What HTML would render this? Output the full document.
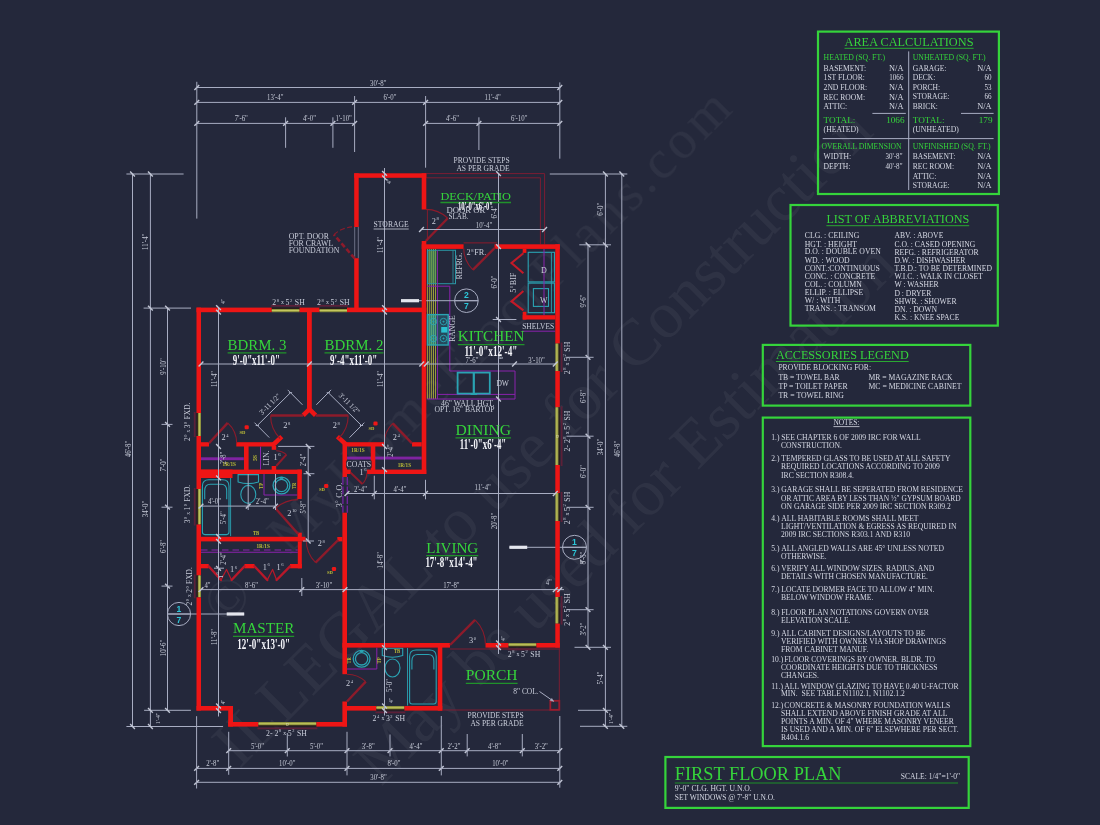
<!DOCTYPE html>
<html lang="en"><head><meta charset="utf-8"><title>First Floor Plan</title>
<style>
html,body{margin:0;padding:0;background:#24283b;}
body{width:1100px;height:825px;overflow:hidden;}
svg{display:block;font-family:"Liberation Serif", serif;}
text{white-space:pre;}
</style></head><body>
<svg width="1100" height="825" viewBox="0 0 1100 825">
<rect x="0" y="0" width="1100" height="825" fill="#24283b"/>
<g fill="#ffffff" opacity="0.05">
<text transform="translate(734 111) rotate(-45)" text-anchor="end" font-size="55" textLength="628.6" lengthAdjust="spacing">MyHomeFloorPlans.com</text>
<text transform="translate(240 611.5) rotate(-45)" text-anchor="middle" font-size="56">©</text>
<text transform="translate(239.4 769.6) rotate(-45)" font-size="66">ILLEGAL to use for Construction</text>
<text transform="translate(381.3 786.9) rotate(-45)" font-size="66">May be used for Estimation</text>
</g>
<line x1="427.60" y1="249.00" x2="427.60" y2="399.00" stroke="#b2b03c" stroke-width="0.85" />
<line x1="429.70" y1="249.00" x2="429.70" y2="399.00" stroke="#b2b03c" stroke-width="0.85" />
<line x1="431.60" y1="249.00" x2="431.60" y2="399.00" stroke="#b2b03c" stroke-width="0.85" />
<line x1="433.50" y1="249.00" x2="433.50" y2="399.00" stroke="#b2b03c" stroke-width="0.85" />
<line x1="435.50" y1="249.00" x2="435.50" y2="399.00" stroke="#b2b03c" stroke-width="0.85" />
<rect x="427.20" y="250.30" width="9.20" height="33.30" fill="#4f9c60" fill-opacity="0.62"/>
<rect x="427.50" y="250.30" width="28.00" height="33.40" fill="none" stroke="#2b97a6" stroke-width="1" />
<line x1="453.00" y1="250.30" x2="453.00" y2="283.70" stroke="#2b97a6" stroke-width="0.8" />
<line x1="437.50" y1="250.30" x2="437.50" y2="399.00" stroke="#8a22ad" stroke-width="0.9" />
<polyline points="427.20,286.20 449.80,286.20 449.80,371.00 515.00,371.00 515.00,399.00 427.20,399.00" fill="none" stroke="#8a22ad" stroke-width="1" />
<line x1="437.50" y1="394.40" x2="515.00" y2="394.40" stroke="#8a22ad" stroke-width="1" />
<rect x="427.40" y="314.60" width="20.80" height="30.40" fill="#2aa3b3" stroke="#2aa3b3" stroke-width="1.4" fill-opacity="0.28"/>
<rect x="427.40" y="314.60" width="8.90" height="30.40" fill="#35b59a" fill-opacity="0.45"/>
<circle cx="433.40" cy="321.60" r="3.30" fill="none" stroke="#2aa3b3" stroke-width="0.9" />
<circle cx="433.40" cy="321.60" r="0.70" fill="#2aa3b3" stroke="#2aa3b3" stroke-width="0.6" />
<circle cx="443.50" cy="321.60" r="3.30" fill="none" stroke="#2aa3b3" stroke-width="0.9" />
<circle cx="443.50" cy="321.60" r="0.70" fill="#2aa3b3" stroke="#2aa3b3" stroke-width="0.6" />
<circle cx="433.40" cy="338.50" r="3.30" fill="none" stroke="#2aa3b3" stroke-width="0.9" />
<circle cx="433.40" cy="338.50" r="0.70" fill="#2aa3b3" stroke="#2aa3b3" stroke-width="0.6" />
<circle cx="443.50" cy="338.50" r="3.30" fill="none" stroke="#2aa3b3" stroke-width="0.9" />
<circle cx="443.50" cy="338.50" r="0.70" fill="#2aa3b3" stroke="#2aa3b3" stroke-width="0.6" />
<rect x="441.20" y="327.00" width="6.10" height="5.60" fill="#2cc0d0" />
<rect x="457.60" y="372.60" width="32.20" height="21.00" fill="none" stroke="#2aa3b3" stroke-width="1.8" />
<line x1="473.80" y1="372.60" x2="473.80" y2="393.60" stroke="#2aa3b3" stroke-width="2.2" />
<rect x="470.50" y="393.00" width="6.50" height="2.00" fill="#2aa3b3" />
<rect x="528.20" y="252.30" width="26.30" height="29.60" fill="none" stroke="#2aa3b3" stroke-width="1.1" />
<line x1="551.40" y1="252.30" x2="551.40" y2="312.70" stroke="#2aa3b3" stroke-width="0.9" />
<rect x="528.20" y="283.10" width="26.30" height="29.60" fill="none" stroke="#2aa3b3" stroke-width="1.1" />
<rect x="533.40" y="288.60" width="15.10" height="17.80" fill="none" stroke="#2aa3b3" stroke-width="1.1" />
<line x1="544.00" y1="249.00" x2="544.00" y2="315.50" stroke="#8a22ad" stroke-width="1" />
<line x1="522.00" y1="331.20" x2="555.30" y2="331.20" stroke="#8a22ad" stroke-width="1" />
<rect x="201.00" y="457.30" width="42.80" height="2.90" fill="#8a22ad" fill-opacity="0.9"/>
<rect x="347.00" y="456.60" width="74.70" height="2.90" fill="#8a22ad" fill-opacity="0.9"/>
<line x1="260.50" y1="446.50" x2="260.50" y2="469.60" stroke="#8a22ad" stroke-width="1" />
<line x1="201.00" y1="550.00" x2="297.80" y2="550.00" stroke="#8a22ad" stroke-width="1" stroke-dasharray="6.5 4"/>
<line x1="201.00" y1="552.30" x2="297.80" y2="552.30" stroke="#8a22ad" stroke-width="1.1" />
<line x1="342.90" y1="477.00" x2="342.90" y2="512.70" stroke="#7422a0" stroke-width="1.3" stroke-dasharray="8 1.5"/>
<line x1="347.30" y1="477.00" x2="347.30" y2="512.70" stroke="#7422a0" stroke-width="1.3" stroke-dasharray="8 1.5"/>
<path d="M202.40 486.30 Q202.40 479.80 208.90 479.80 L222.50 479.80 Q229.00 479.80 229.00 486.30 L229.00 532.10 Q229.00 534.60 226.50 534.60 L204.90 534.60 Q202.40 534.60 202.40 532.10 Z" fill="none" stroke="#2aa3b3" stroke-width="1.1" />
<path d="M204.70 499.30 L204.70 490.80 Q204.70 484.30 210.40 484.30 L221.00 484.30 Q226.70 484.30 226.70 490.80 L226.70 499.30" fill="none" stroke="#2aa3b3" stroke-width="1.1" />
<line x1="230.60" y1="477.80" x2="230.60" y2="536.10" stroke="#2aa3b3" stroke-width="0.9" />
<path d="M238.10 474.60 L258.50 474.60 L258.50 481.90 Q248.30 485.40 238.10 481.90 Z" fill="none" stroke="#2aa3b3" stroke-width="1.1" />
<ellipse cx="248.30" cy="494.40" rx="7.50" ry="9.00" fill="none" stroke="#2aa3b3" stroke-width="1.1" />
<polyline points="264.00,474.00 264.00,495.00 297.50,495.00" fill="none" stroke="#8a22ad" stroke-width="1" />
<circle cx="281.50" cy="485.50" r="8.40" fill="none" stroke="#2aa3b3" stroke-width="1.3" />
<circle cx="281.50" cy="485.50" r="6.20" fill="none" stroke="#2aa3b3" stroke-width="1.3" />
<rect x="279.70" y="476.90" width="3.60" height="2.00" fill="#2aa3b3" />
<polyline points="347.00,669.00 376.80,669.00 376.80,647.60" fill="none" stroke="#8a22ad" stroke-width="1" />
<circle cx="361.60" cy="658.80" r="8.40" fill="none" stroke="#2aa3b3" stroke-width="1.3" />
<circle cx="361.60" cy="658.80" r="6.20" fill="none" stroke="#2aa3b3" stroke-width="1.3" />
<rect x="359.80" y="650.20" width="3.60" height="2.00" fill="#2aa3b3" />
<path d="M382.30 648.20 L402.70 648.20 L402.70 655.50 Q392.50 659.00 382.30 655.50 Z" fill="none" stroke="#2aa3b3" stroke-width="1.1" />
<ellipse cx="392.50" cy="668.00" rx="7.50" ry="9.00" fill="none" stroke="#2aa3b3" stroke-width="1.1" />
<path d="M409.60 656.50 Q409.60 650.00 416.10 650.00 L429.70 650.00 Q436.20 650.00 436.20 656.50 L436.20 701.50 Q436.20 704.00 433.70 704.00 L412.10 704.00 Q409.60 704.00 409.60 701.50 Z" fill="none" stroke="#2aa3b3" stroke-width="1.1" />
<path d="M411.90 669.50 L411.90 661.00 Q411.90 654.50 417.60 654.50 L428.20 654.50 Q433.90 654.50 433.90 661.00 L433.90 669.50" fill="none" stroke="#2aa3b3" stroke-width="1.1" />
<line x1="407.50" y1="648.00" x2="407.50" y2="705.50" stroke="#2aa3b3" stroke-width="0.9" />
<line x1="401.00" y1="300.70" x2="478.20" y2="300.70" stroke="#a8adc2" stroke-width="1" />
<line x1="167.40" y1="614.00" x2="244.20" y2="614.00" stroke="#a8adc2" stroke-width="1" />
<line x1="509.40" y1="547.30" x2="586.50" y2="547.30" stroke="#a8adc2" stroke-width="1" />
<polyline points="426.30,173.60 544.60,173.60 544.60,244.30" fill="none" stroke="#7c1d33" stroke-width="1" />
<polyline points="426.30,177.80 540.40,177.80 540.40,244.30" fill="none" stroke="#7c1d33" stroke-width="1" />
<polyline points="450.00,649.00 559.30,649.00" fill="none" stroke="#7c1d33" stroke-width="1" />
<polyline points="442.30,710.00 559.30,710.00 559.30,647.60" fill="none" stroke="#7c1d33" stroke-width="1" />
<rect x="550.30" y="700.80" width="9.00" height="9.00" fill="none" stroke="#9a1c2e" stroke-width="1.8" />
<rect x="354.20" y="173.30" width="72.10" height="4.50" fill="#ee1515" />
<rect x="354.20" y="173.30" width="4.50" height="53.70" fill="#ee1515" />
<rect x="354.20" y="258.20" width="4.50" height="53.80" fill="#ee1515" />
<line x1="354.70" y1="227.00" x2="354.70" y2="258.20" stroke="#7d8297" stroke-width="0.8" />
<line x1="358.30" y1="227.00" x2="358.30" y2="258.20" stroke="#7d8297" stroke-width="0.8" />
<rect x="421.70" y="173.30" width="4.60" height="36.20" fill="#ee1515" />
<rect x="421.70" y="241.00" width="4.60" height="233.00" fill="#ee1515" />
<rect x="421.70" y="244.30" width="41.90" height="4.60" fill="#ee1515" />
<rect x="494.50" y="244.30" width="65.30" height="4.60" fill="#ee1515" />
<rect x="555.30" y="244.30" width="4.50" height="99.30" fill="#ee1515" />
<rect x="558.30" y="343.60" width="1.50" height="27.40" fill="#2a1c18" />
<rect x="555.30" y="343.60" width="3.10" height="27.40" fill="#8f9440" />
<line x1="556.90" y1="343.60" x2="556.90" y2="371.00" stroke="#c9cc62" stroke-width="0.9" />
<line x1="561.60" y1="342.60" x2="561.60" y2="372.00" stroke="#5c2038" stroke-width="1.8" />
<rect x="555.30" y="371.00" width="4.50" height="36.30" fill="#ee1515" />
<rect x="558.30" y="407.30" width="1.50" height="57.70" fill="#2a1c18" />
<rect x="555.30" y="407.30" width="3.10" height="57.70" fill="#8f9440" />
<line x1="556.90" y1="407.30" x2="556.90" y2="465.00" stroke="#c9cc62" stroke-width="0.9" />
<line x1="561.60" y1="406.30" x2="561.60" y2="466.00" stroke="#5c2038" stroke-width="1.8" />
<rect x="556.60" y="435.40" width="2.00" height="2.00" fill="none" stroke="#d0d0a0" stroke-width="0.5" />
<rect x="555.30" y="465.00" width="4.50" height="28.00" fill="#ee1515" />
<rect x="558.30" y="493.00" width="1.50" height="28.00" fill="#2a1c18" />
<rect x="555.30" y="493.00" width="3.10" height="28.00" fill="#8f9440" />
<line x1="556.90" y1="493.00" x2="556.90" y2="521.00" stroke="#c9cc62" stroke-width="0.9" />
<line x1="561.60" y1="492.00" x2="561.60" y2="522.00" stroke="#5c2038" stroke-width="1.8" />
<rect x="555.30" y="521.00" width="4.50" height="76.00" fill="#ee1515" />
<rect x="558.30" y="597.00" width="1.50" height="26.60" fill="#2a1c18" />
<rect x="555.30" y="597.00" width="3.10" height="26.60" fill="#8f9440" />
<line x1="556.90" y1="597.00" x2="556.90" y2="623.60" stroke="#c9cc62" stroke-width="0.9" />
<line x1="561.60" y1="596.00" x2="561.60" y2="624.60" stroke="#5c2038" stroke-width="1.8" />
<rect x="555.30" y="623.60" width="4.50" height="24.00" fill="#ee1515" />
<rect x="522.70" y="248.90" width="3.70" height="4.00" fill="#ee1515" />
<rect x="522.70" y="311.80" width="3.70" height="7.70" fill="#ee1515" />
<rect x="522.70" y="315.20" width="32.60" height="4.30" fill="#ee1515" />
<rect x="196.50" y="307.60" width="75.30" height="4.60" fill="#ee1515" />
<rect x="271.80" y="307.60" width="27.80" height="1.50" fill="#2a1c18" />
<rect x="271.80" y="309.00" width="27.80" height="3.20" fill="#8f9440" />
<line x1="271.80" y1="310.50" x2="299.60" y2="310.50" stroke="#c9cc62" stroke-width="0.9" />
<line x1="270.80" y1="305.80" x2="300.60" y2="305.80" stroke="#5c2038" stroke-width="1.8" />
<rect x="299.60" y="307.60" width="20.00" height="4.60" fill="#ee1515" />
<rect x="319.60" y="307.60" width="27.40" height="1.50" fill="#2a1c18" />
<rect x="319.60" y="309.00" width="27.40" height="3.20" fill="#8f9440" />
<line x1="319.60" y1="310.50" x2="347.00" y2="310.50" stroke="#c9cc62" stroke-width="0.9" />
<line x1="318.60" y1="305.80" x2="348.00" y2="305.80" stroke="#5c2038" stroke-width="1.8" />
<rect x="347.00" y="307.60" width="79.30" height="4.60" fill="#ee1515" />
<rect x="196.50" y="307.60" width="4.50" height="105.40" fill="#ee1515" />
<rect x="196.50" y="413.00" width="1.50" height="23.00" fill="#2a1c18" />
<rect x="197.90" y="413.00" width="3.10" height="23.00" fill="#8f9440" />
<line x1="199.40" y1="413.00" x2="199.40" y2="436.00" stroke="#c9cc62" stroke-width="0.9" />
<line x1="194.70" y1="412.00" x2="194.70" y2="437.00" stroke="#5c2038" stroke-width="1.8" />
<rect x="196.50" y="436.00" width="4.50" height="53.00" fill="#ee1515" />
<rect x="196.50" y="489.00" width="1.50" height="35.50" fill="#2a1c18" />
<rect x="197.90" y="489.00" width="3.10" height="35.50" fill="#8f9440" />
<line x1="199.40" y1="489.00" x2="199.40" y2="524.50" stroke="#c9cc62" stroke-width="0.9" />
<line x1="194.70" y1="488.00" x2="194.70" y2="525.50" stroke="#5c2038" stroke-width="1.8" />
<rect x="196.50" y="524.50" width="4.50" height="51.00" fill="#ee1515" />
<rect x="196.50" y="575.50" width="1.50" height="21.80" fill="#2a1c18" />
<rect x="197.90" y="575.50" width="3.10" height="21.80" fill="#8f9440" />
<line x1="199.40" y1="575.50" x2="199.40" y2="597.30" stroke="#c9cc62" stroke-width="0.9" />
<line x1="194.70" y1="574.50" x2="194.70" y2="598.30" stroke="#5c2038" stroke-width="1.8" />
<rect x="196.50" y="597.30" width="4.50" height="113.30" fill="#ee1515" />
<rect x="307.00" y="312.00" width="4.80" height="98.50" fill="#ee1515" />
<polyline points="303.20,415.40 309.40,409.20 315.60,415.40" fill="none" stroke="#ee1515" stroke-width="4.6" stroke-linecap="butt" stroke-linejoin="miter"/>
<rect x="201.00" y="442.20" width="8.00" height="4.30" fill="#ee1515" />
<rect x="236.30" y="442.20" width="38.50" height="4.30" fill="#ee1515" />
<polyline points="273.00,445.00 281.80,436.60" fill="none" stroke="#ee1515" stroke-width="4.5" stroke-linecap="butt" stroke-linejoin="miter"/>
<rect x="244.00" y="446.00" width="4.60" height="24.00" fill="#ee1515" />
<rect x="201.00" y="469.60" width="100.80" height="4.40" fill="#ee1515" />
<rect x="201.00" y="469.60" width="31.50" height="8.40" fill="#ee1515" />
<rect x="271.70" y="446.00" width="4.50" height="3.80" fill="#ee1515" />
<rect x="271.70" y="466.00" width="4.50" height="4.00" fill="#ee1515" />
<rect x="297.30" y="469.60" width="4.50" height="29.40" fill="#ee1515" />
<rect x="201.00" y="536.80" width="104.50" height="4.60" fill="#ee1515" />
<rect x="297.80" y="532.70" width="4.00" height="8.70" fill="#ee1515" />
<rect x="297.80" y="541.40" width="4.00" height="26.90" fill="#ee1515" />
<rect x="201.00" y="564.00" width="7.70" height="4.30" fill="#ee1515" />
<rect x="244.50" y="564.00" width="10.00" height="4.30" fill="#ee1515" />
<rect x="290.00" y="564.00" width="11.80" height="4.30" fill="#ee1515" />
<rect x="345.20" y="442.20" width="38.90" height="4.30" fill="#ee1515" />
<rect x="412.00" y="442.20" width="9.70" height="4.30" fill="#ee1515" />
<polyline points="346.60,445.00 337.40,436.60" fill="none" stroke="#ee1515" stroke-width="4.5" stroke-linecap="butt" stroke-linejoin="miter"/>
<rect x="342.50" y="442.20" width="4.50" height="34.80" fill="#ee1515" />
<rect x="347.00" y="469.60" width="3.70" height="4.40" fill="#ee1515" />
<rect x="370.80" y="446.00" width="4.50" height="24.00" fill="#ee1515" />
<rect x="367.00" y="469.60" width="59.30" height="4.40" fill="#ee1515" />
<rect x="342.40" y="512.70" width="4.60" height="161.50" fill="#ee1515" />
<rect x="342.40" y="701.50" width="4.60" height="25.10" fill="#ee1515" />
<rect x="337.30" y="537.00" width="5.10" height="4.40" fill="#ee1515" />
<rect x="196.50" y="706.00" width="36.50" height="4.60" fill="#ee1515" />
<rect x="228.20" y="706.00" width="4.80" height="20.60" fill="#ee1515" />
<rect x="228.20" y="722.00" width="30.30" height="4.60" fill="#ee1515" />
<rect x="258.50" y="725.10" width="57.90" height="1.50" fill="#2a1c18" />
<rect x="258.50" y="722.00" width="57.90" height="3.20" fill="#8f9440" />
<line x1="258.50" y1="723.70" x2="316.40" y2="723.70" stroke="#c9cc62" stroke-width="0.9" />
<line x1="257.50" y1="728.40" x2="317.40" y2="728.40" stroke="#5c2038" stroke-width="1.8" />
<rect x="286.30" y="723.30" width="2.00" height="2.00" fill="none" stroke="#d0d0a0" stroke-width="0.5" />
<rect x="316.40" y="722.00" width="30.60" height="4.60" fill="#ee1515" />
<rect x="342.40" y="643.00" width="107.60" height="4.60" fill="#ee1515" />
<rect x="485.50" y="643.00" width="23.10" height="4.60" fill="#ee1515" />
<rect x="508.60" y="646.10" width="27.80" height="1.50" fill="#2a1c18" />
<rect x="508.60" y="643.00" width="27.80" height="3.20" fill="#8f9440" />
<line x1="508.60" y1="644.70" x2="536.40" y2="644.70" stroke="#c9cc62" stroke-width="0.9" />
<line x1="507.60" y1="649.40" x2="537.40" y2="649.40" stroke="#5c2038" stroke-width="1.8" />
<rect x="536.40" y="643.00" width="23.40" height="4.60" fill="#ee1515" />
<rect x="437.80" y="647.00" width="4.50" height="63.60" fill="#ee1515" />
<rect x="347.00" y="706.00" width="29.40" height="4.60" fill="#ee1515" />
<rect x="376.40" y="709.10" width="28.00" height="1.50" fill="#2a1c18" />
<rect x="376.40" y="706.00" width="28.00" height="3.20" fill="#8f9440" />
<line x1="376.40" y1="707.70" x2="404.40" y2="707.70" stroke="#c9cc62" stroke-width="0.9" />
<line x1="375.40" y1="712.40" x2="405.40" y2="712.40" stroke="#5c2038" stroke-width="1.8" />
<rect x="404.40" y="706.00" width="37.90" height="4.60" fill="#ee1515" />
<line x1="354.60" y1="258.40" x2="333.87" y2="234.55" stroke="#8d1b2b" stroke-width="2.6" stroke-dasharray="5 2.5"/>
<path d="M333.87 234.55 A31.60 31.60 0 0 1 354.60 226.80" fill="none" stroke="#8d1b2b" stroke-width="1.1" stroke-dasharray="5 2.5"/>
<line x1="425.80" y1="241.00" x2="447.75" y2="218.27" stroke="#8d1b2b" stroke-width="2.4" />
<path d="M447.75 218.27 A31.60 31.60 0 0 0 425.80 209.40" fill="none" stroke="#8d1b2b" stroke-width="1.1" />
<line x1="427.40" y1="209.50" x2="427.40" y2="241.00" stroke="#8d1b2b" stroke-width="0.9" />
<line x1="495.20" y1="247.50" x2="472.86" y2="269.84" stroke="#8d1b2b" stroke-width="2.4" />
<path d="M472.86 269.84 A31.60 31.60 0 0 1 463.60 247.50" fill="none" stroke="#8d1b2b" stroke-width="1.1" />
<line x1="463.60" y1="242.90" x2="497.00" y2="242.90" stroke="#8d1b2b" stroke-width="1" />
<line x1="303.20" y1="415.50" x2="270.60" y2="415.50" stroke="#8d1b2b" stroke-width="2.4" />
<path d="M270.60 415.50 A32.60 32.60 0 0 0 280.15 438.55" fill="none" stroke="#8d1b2b" stroke-width="1.1" />
<line x1="315.60" y1="415.50" x2="348.20" y2="415.50" stroke="#8d1b2b" stroke-width="2.4" />
<path d="M348.20 415.50 A32.60 32.60 0 0 1 338.65 438.55" fill="none" stroke="#8d1b2b" stroke-width="1.1" />
<line x1="209.00" y1="443.30" x2="227.71" y2="422.88" stroke="#8d1b2b" stroke-width="2.4" />
<path d="M227.71 422.88 A27.70 27.70 0 0 1 236.70 443.30" fill="none" stroke="#8d1b2b" stroke-width="1.1" />
<line x1="412.00" y1="443.30" x2="392.76" y2="423.37" stroke="#8d1b2b" stroke-width="2.4" />
<path d="M392.76 423.37 A27.70 27.70 0 0 0 384.30 443.30" fill="none" stroke="#8d1b2b" stroke-width="1.1" />
<line x1="276.20" y1="466.00" x2="286.44" y2="454.63" stroke="#8d1b2b" stroke-width="2" />
<path d="M286.44 454.63 A15.30 15.30 0 0 0 276.20 450.70" fill="none" stroke="#8d1b2b" stroke-width="1.1" />
<line x1="350.70" y1="472.80" x2="362.35" y2="484.05" stroke="#8d1b2b" stroke-width="2" />
<path d="M362.35 484.05 A16.20 16.20 0 0 0 366.90 472.80" fill="none" stroke="#8d1b2b" stroke-width="1.1" />
<line x1="298.20" y1="534.00" x2="275.41" y2="508.24" stroke="#8d1b2b" stroke-width="2.4" />
<path d="M275.41 508.24 A34.40 34.40 0 0 1 298.20 499.60" fill="none" stroke="#8d1b2b" stroke-width="1.1" />
<line x1="338.20" y1="540.00" x2="315.57" y2="562.63" stroke="#8d1b2b" stroke-width="2.4" />
<path d="M315.57 562.63 A32.00 32.00 0 0 1 306.20 540.00" fill="none" stroke="#8d1b2b" stroke-width="1.1" />
<line x1="347.00" y1="701.50" x2="365.79" y2="681.70" stroke="#8d1b2b" stroke-width="2.4" />
<path d="M365.79 681.70 A27.30 27.30 0 0 0 347.00 674.20" fill="none" stroke="#8d1b2b" stroke-width="1.1" />
<line x1="450.00" y1="645.00" x2="475.10" y2="619.90" stroke="#8d1b2b" stroke-width="2.4" />
<path d="M475.10 619.90 A35.50 35.50 0 0 1 485.50 645.00" fill="none" stroke="#8d1b2b" stroke-width="1.1" />
<polyline points="523.40,253.30 511.50,263.00 523.40,273.20" fill="none" stroke="#c41a28" stroke-width="2.1" />
<polyline points="523.40,291.00 511.50,301.40 523.40,310.40" fill="none" stroke="#c41a28" stroke-width="2.1" />
<polyline points="208.70,566.30 221.00,580.00" fill="none" stroke="#b8182a" stroke-width="2.4" stroke-linecap="round"/>
<polyline points="221.00,580.00 226.50,569.50 231.60,580.00" fill="none" stroke="#b8182a" stroke-width="1.2" stroke-linejoin="round"/>
<polyline points="231.60,580.00 244.50,566.30" fill="none" stroke="#b8182a" stroke-width="2.4" stroke-linecap="round"/>
<polyline points="254.50,566.30 267.30,580.00" fill="none" stroke="#b8182a" stroke-width="2.4" stroke-linecap="round"/>
<polyline points="267.30,580.00 272.60,569.50 276.60,580.00" fill="none" stroke="#b8182a" stroke-width="1.2" stroke-linejoin="round"/>
<polyline points="276.60,580.00 290.00,566.30" fill="none" stroke="#b8182a" stroke-width="2.4" stroke-linecap="round"/>
<line x1="196.80" y1="87.50" x2="559.80" y2="87.50" stroke="#a8adc2" stroke-width="1" />
<line x1="194.40" y1="89.90" x2="199.20" y2="85.10" stroke="#c3c7d6" stroke-width="1.4" />
<line x1="557.40" y1="89.90" x2="562.20" y2="85.10" stroke="#c3c7d6" stroke-width="1.4" />
<text font-size="8" fill="#c5c9d6" text-anchor="middle" transform="translate(378.20 85.60) scale(0.85 1)" >30'-8"</text>
<line x1="196.80" y1="102.40" x2="559.80" y2="102.40" stroke="#a8adc2" stroke-width="1" />
<line x1="194.40" y1="104.80" x2="199.20" y2="100.00" stroke="#c3c7d6" stroke-width="1.4" />
<line x1="352.20" y1="104.80" x2="357.00" y2="100.00" stroke="#c3c7d6" stroke-width="1.4" />
<line x1="423.20" y1="104.80" x2="428.00" y2="100.00" stroke="#c3c7d6" stroke-width="1.4" />
<line x1="557.40" y1="104.80" x2="562.20" y2="100.00" stroke="#c3c7d6" stroke-width="1.4" />
<text font-size="8" fill="#c5c9d6" text-anchor="middle" transform="translate(275.30 100.40) scale(0.85 1)" >13'-4"</text>
<text font-size="8" fill="#c5c9d6" text-anchor="middle" transform="translate(390.00 100.40) scale(0.85 1)" >6'-0"</text>
<text font-size="8" fill="#c5c9d6" text-anchor="middle" transform="translate(492.70 100.40) scale(0.85 1)" >11'-4"</text>
<line x1="196.80" y1="123.40" x2="354.60" y2="123.40" stroke="#a8adc2" stroke-width="1" />
<line x1="425.60" y1="123.40" x2="559.80" y2="123.40" stroke="#a8adc2" stroke-width="1" />
<line x1="194.40" y1="125.80" x2="199.20" y2="121.00" stroke="#c3c7d6" stroke-width="1.4" />
<line x1="283.20" y1="125.80" x2="288.00" y2="121.00" stroke="#c3c7d6" stroke-width="1.4" />
<line x1="330.50" y1="125.80" x2="335.30" y2="121.00" stroke="#c3c7d6" stroke-width="1.4" />
<line x1="352.20" y1="125.80" x2="357.00" y2="121.00" stroke="#c3c7d6" stroke-width="1.4" />
<line x1="423.20" y1="125.80" x2="428.00" y2="121.00" stroke="#c3c7d6" stroke-width="1.4" />
<line x1="476.50" y1="125.80" x2="481.30" y2="121.00" stroke="#c3c7d6" stroke-width="1.4" />
<line x1="557.40" y1="125.80" x2="562.20" y2="121.00" stroke="#c3c7d6" stroke-width="1.4" />
<text font-size="8" fill="#c5c9d6" text-anchor="middle" transform="translate(241.30 121.40) scale(0.85 1)" >7'-6"</text>
<text font-size="8" fill="#c5c9d6" text-anchor="middle" transform="translate(309.40 121.40) scale(0.85 1)" >4'-0"</text>
<text font-size="8" fill="#c5c9d6" text-anchor="middle" transform="translate(343.60 121.40) scale(0.85 1)" >1'-10"</text>
<text font-size="8" fill="#c5c9d6" text-anchor="middle" transform="translate(452.40 121.40) scale(0.85 1)" >4'-6"</text>
<text font-size="8" fill="#c5c9d6" text-anchor="middle" transform="translate(519.20 121.40) scale(0.85 1)" >6'-10"</text>
<line x1="196.80" y1="81.80" x2="196.80" y2="218.60" stroke="#a8adc2" stroke-width="1" />
<line x1="285.60" y1="117.30" x2="285.60" y2="147.80" stroke="#a8adc2" stroke-width="1" />
<line x1="332.90" y1="117.30" x2="332.90" y2="147.80" stroke="#a8adc2" stroke-width="1" />
<line x1="354.60" y1="96.00" x2="354.60" y2="152.00" stroke="#a8adc2" stroke-width="1" />
<line x1="425.60" y1="96.00" x2="425.60" y2="167.70" stroke="#a8adc2" stroke-width="1" />
<line x1="478.90" y1="117.30" x2="478.90" y2="150.00" stroke="#a8adc2" stroke-width="1" />
<line x1="559.80" y1="82.40" x2="559.80" y2="158.70" stroke="#a8adc2" stroke-width="1" />
<line x1="132.50" y1="174.00" x2="132.50" y2="726.50" stroke="#a8adc2" stroke-width="1" />
<line x1="150.40" y1="174.00" x2="150.40" y2="726.50" stroke="#a8adc2" stroke-width="1" />
<line x1="167.50" y1="308.10" x2="167.50" y2="710.30" stroke="#a8adc2" stroke-width="1" />
<line x1="126.40" y1="174.00" x2="183.60" y2="174.00" stroke="#a8adc2" stroke-width="1" />
<line x1="143.60" y1="308.10" x2="191.00" y2="308.10" stroke="#a8adc2" stroke-width="1" />
<line x1="144.10" y1="710.30" x2="190.90" y2="710.30" stroke="#a8adc2" stroke-width="1" />
<line x1="126.40" y1="726.50" x2="223.00" y2="726.50" stroke="#a8adc2" stroke-width="1" />
<line x1="130.10" y1="171.60" x2="134.90" y2="176.40" stroke="#c3c7d6" stroke-width="1.4" />
<line x1="130.10" y1="724.10" x2="134.90" y2="728.90" stroke="#c3c7d6" stroke-width="1.4" />
<line x1="148.00" y1="171.60" x2="152.80" y2="176.40" stroke="#c3c7d6" stroke-width="1.4" />
<line x1="148.00" y1="305.70" x2="152.80" y2="310.50" stroke="#c3c7d6" stroke-width="1.4" />
<line x1="148.00" y1="707.90" x2="152.80" y2="712.70" stroke="#c3c7d6" stroke-width="1.4" />
<line x1="148.00" y1="724.10" x2="152.80" y2="728.90" stroke="#c3c7d6" stroke-width="1.4" />
<line x1="165.10" y1="305.70" x2="169.90" y2="310.50" stroke="#c3c7d6" stroke-width="1.4" />
<line x1="165.10" y1="422.00" x2="169.90" y2="426.80" stroke="#c3c7d6" stroke-width="1.4" />
<line x1="165.10" y1="504.80" x2="169.90" y2="509.60" stroke="#c3c7d6" stroke-width="1.4" />
<line x1="165.10" y1="583.70" x2="169.90" y2="588.50" stroke="#c3c7d6" stroke-width="1.4" />
<line x1="165.10" y1="707.90" x2="169.90" y2="712.70" stroke="#c3c7d6" stroke-width="1.4" />
<line x1="161.50" y1="424.40" x2="172.50" y2="424.40" stroke="#a8adc2" stroke-width="1" />
<line x1="161.50" y1="507.20" x2="172.50" y2="507.20" stroke="#a8adc2" stroke-width="1" />
<line x1="161.50" y1="586.10" x2="172.50" y2="586.10" stroke="#a8adc2" stroke-width="1" />
<text font-size="8" fill="#c5c9d6" text-anchor="middle" transform="translate(130.50 449.00) rotate(-90) scale(0.85 1)" >46'-8"</text>
<text font-size="8" fill="#c5c9d6" text-anchor="middle" transform="translate(148.30 241.80) rotate(-90) scale(0.85 1)" >11'-4"</text>
<text font-size="8" fill="#c5c9d6" text-anchor="middle" transform="translate(148.30 509.00) rotate(-90) scale(0.85 1)" >34'-0"</text>
<text font-size="8" fill="#c5c9d6" text-anchor="middle" transform="translate(165.50 366.50) rotate(-90) scale(0.85 1)" >9'-10"</text>
<text font-size="8" fill="#c5c9d6" text-anchor="middle" transform="translate(165.50 465.00) rotate(-90) scale(0.85 1)" >7'-0"</text>
<text font-size="8" fill="#c5c9d6" text-anchor="middle" transform="translate(165.50 546.40) rotate(-90) scale(0.85 1)" >6'-8"</text>
<text font-size="8" fill="#c5c9d6" text-anchor="middle" transform="translate(165.50 648.00) rotate(-90) scale(0.85 1)" >10'-6"</text>
<text font-size="7" fill="#c5c9d6" text-anchor="middle" transform="translate(159.50 718.40) rotate(-90) scale(0.85 1)" >1'-4"</text>
<line x1="588.00" y1="244.80" x2="588.00" y2="647.30" stroke="#a8adc2" stroke-width="1" />
<line x1="605.40" y1="174.00" x2="605.40" y2="726.30" stroke="#a8adc2" stroke-width="1" />
<line x1="621.80" y1="174.00" x2="621.80" y2="726.30" stroke="#a8adc2" stroke-width="1" />
<line x1="549.80" y1="174.00" x2="627.30" y2="174.00" stroke="#a8adc2" stroke-width="1" />
<line x1="579.30" y1="244.80" x2="611.00" y2="244.80" stroke="#a8adc2" stroke-width="1" />
<line x1="574.50" y1="647.30" x2="611.00" y2="647.30" stroke="#a8adc2" stroke-width="1" />
<line x1="578.00" y1="710.30" x2="611.00" y2="710.30" stroke="#a8adc2" stroke-width="1" />
<line x1="580.00" y1="726.30" x2="627.30" y2="726.30" stroke="#a8adc2" stroke-width="1" />
<line x1="619.40" y1="171.60" x2="624.20" y2="176.40" stroke="#c3c7d6" stroke-width="1.4" />
<line x1="619.40" y1="723.90" x2="624.20" y2="728.70" stroke="#c3c7d6" stroke-width="1.4" />
<line x1="603.00" y1="171.60" x2="607.80" y2="176.40" stroke="#c3c7d6" stroke-width="1.4" />
<line x1="603.00" y1="242.40" x2="607.80" y2="247.20" stroke="#c3c7d6" stroke-width="1.4" />
<line x1="603.00" y1="644.90" x2="607.80" y2="649.70" stroke="#c3c7d6" stroke-width="1.4" />
<line x1="603.00" y1="707.90" x2="607.80" y2="712.70" stroke="#c3c7d6" stroke-width="1.4" />
<line x1="603.00" y1="723.90" x2="607.80" y2="728.70" stroke="#c3c7d6" stroke-width="1.4" />
<line x1="585.60" y1="242.40" x2="590.40" y2="247.20" stroke="#c3c7d6" stroke-width="1.4" />
<line x1="585.60" y1="354.90" x2="590.40" y2="359.70" stroke="#c3c7d6" stroke-width="1.4" />
<line x1="585.60" y1="433.80" x2="590.40" y2="438.60" stroke="#c3c7d6" stroke-width="1.4" />
<line x1="585.60" y1="504.90" x2="590.40" y2="509.70" stroke="#c3c7d6" stroke-width="1.4" />
<line x1="585.60" y1="607.30" x2="590.40" y2="612.10" stroke="#c3c7d6" stroke-width="1.4" />
<line x1="585.60" y1="644.90" x2="590.40" y2="649.70" stroke="#c3c7d6" stroke-width="1.4" />
<line x1="565.50" y1="357.30" x2="593.60" y2="357.30" stroke="#a8adc2" stroke-width="1" />
<line x1="566.50" y1="436.20" x2="593.60" y2="436.20" stroke="#a8adc2" stroke-width="1" />
<line x1="566.50" y1="507.30" x2="593.60" y2="507.30" stroke="#a8adc2" stroke-width="1" />
<line x1="566.50" y1="609.70" x2="593.60" y2="609.70" stroke="#a8adc2" stroke-width="1" />
<text font-size="8" fill="#c5c9d6" text-anchor="middle" transform="translate(619.80 449.00) rotate(-90) scale(0.85 1)" >46'-8"</text>
<text font-size="8" fill="#c5c9d6" text-anchor="middle" transform="translate(603.40 209.30) rotate(-90) scale(0.85 1)" >6'-0"</text>
<text font-size="8" fill="#c5c9d6" text-anchor="middle" transform="translate(603.40 447.00) rotate(-90) scale(0.85 1)" >34'-0"</text>
<text font-size="8" fill="#c5c9d6" text-anchor="middle" transform="translate(603.40 678.00) rotate(-90) scale(0.85 1)" >5'-4"</text>
<text font-size="7" fill="#c5c9d6" text-anchor="middle" transform="translate(613.20 718.40) rotate(-90) scale(0.85 1)" >1'-4"</text>
<text font-size="8" fill="#c5c9d6" text-anchor="middle" transform="translate(586.00 301.00) rotate(-90) scale(0.85 1)" >9'-6"</text>
<text font-size="8" fill="#c5c9d6" text-anchor="middle" transform="translate(586.00 396.50) rotate(-90) scale(0.85 1)" >6'-8"</text>
<text font-size="8" fill="#c5c9d6" text-anchor="middle" transform="translate(586.00 471.60) rotate(-90) scale(0.85 1)" >6'-0"</text>
<text font-size="8" fill="#c5c9d6" text-anchor="middle" transform="translate(586.00 558.00) rotate(-90) scale(0.85 1)" >8'-8"</text>
<text font-size="8" fill="#c5c9d6" text-anchor="middle" transform="translate(586.00 629.00) rotate(-90) scale(0.85 1)" >3'-2"</text>
<line x1="228.70" y1="750.70" x2="559.80" y2="750.70" stroke="#a8adc2" stroke-width="1" />
<line x1="226.30" y1="753.10" x2="231.10" y2="748.30" stroke="#c3c7d6" stroke-width="1.4" />
<line x1="284.90" y1="753.10" x2="289.70" y2="748.30" stroke="#c3c7d6" stroke-width="1.4" />
<line x1="344.60" y1="753.10" x2="349.40" y2="748.30" stroke="#c3c7d6" stroke-width="1.4" />
<line x1="387.60" y1="753.10" x2="392.40" y2="748.30" stroke="#c3c7d6" stroke-width="1.4" />
<line x1="438.90" y1="753.10" x2="443.70" y2="748.30" stroke="#c3c7d6" stroke-width="1.4" />
<line x1="464.80" y1="753.10" x2="469.60" y2="748.30" stroke="#c3c7d6" stroke-width="1.4" />
<line x1="519.90" y1="753.10" x2="524.70" y2="748.30" stroke="#c3c7d6" stroke-width="1.4" />
<line x1="557.40" y1="753.10" x2="562.20" y2="748.30" stroke="#c3c7d6" stroke-width="1.4" />
<line x1="196.60" y1="768.40" x2="559.80" y2="768.40" stroke="#a8adc2" stroke-width="1" />
<line x1="194.20" y1="770.80" x2="199.00" y2="766.00" stroke="#c3c7d6" stroke-width="1.4" />
<line x1="226.30" y1="770.80" x2="231.10" y2="766.00" stroke="#c3c7d6" stroke-width="1.4" />
<line x1="344.60" y1="770.80" x2="349.40" y2="766.00" stroke="#c3c7d6" stroke-width="1.4" />
<line x1="438.90" y1="770.80" x2="443.70" y2="766.00" stroke="#c3c7d6" stroke-width="1.4" />
<line x1="557.40" y1="770.80" x2="562.20" y2="766.00" stroke="#c3c7d6" stroke-width="1.4" />
<line x1="196.60" y1="782.30" x2="559.80" y2="782.30" stroke="#a8adc2" stroke-width="1" />
<line x1="194.20" y1="784.70" x2="199.00" y2="779.90" stroke="#c3c7d6" stroke-width="1.4" />
<line x1="557.40" y1="784.70" x2="562.20" y2="779.90" stroke="#c3c7d6" stroke-width="1.4" />
<line x1="196.60" y1="716.20" x2="196.60" y2="788.50" stroke="#a8adc2" stroke-width="1" />
<line x1="228.70" y1="731.80" x2="228.70" y2="774.80" stroke="#a8adc2" stroke-width="1" />
<line x1="287.30" y1="733.00" x2="287.30" y2="756.50" stroke="#a8adc2" stroke-width="1" />
<line x1="347.00" y1="731.80" x2="347.00" y2="775.40" stroke="#a8adc2" stroke-width="1" />
<line x1="390.00" y1="734.50" x2="390.00" y2="756.40" stroke="#a8adc2" stroke-width="1" />
<line x1="441.30" y1="716.00" x2="441.30" y2="775.40" stroke="#a8adc2" stroke-width="1" />
<line x1="467.20" y1="734.00" x2="467.20" y2="756.40" stroke="#a8adc2" stroke-width="1" />
<line x1="522.30" y1="734.00" x2="522.30" y2="756.40" stroke="#a8adc2" stroke-width="1" />
<line x1="559.80" y1="716.00" x2="559.80" y2="787.70" stroke="#a8adc2" stroke-width="1" />
<text font-size="8" fill="#c5c9d6" text-anchor="middle" transform="translate(257.50 748.60) scale(0.85 1)" >5'-0"</text>
<text font-size="8" fill="#c5c9d6" text-anchor="middle" transform="translate(316.50 748.60) scale(0.85 1)" >5'-0"</text>
<text font-size="8" fill="#c5c9d6" text-anchor="middle" transform="translate(368.20 748.60) scale(0.85 1)" >3'-8"</text>
<text font-size="8" fill="#c5c9d6" text-anchor="middle" transform="translate(416.00 748.60) scale(0.85 1)" >4'-4"</text>
<text font-size="8" fill="#c5c9d6" text-anchor="middle" transform="translate(454.00 748.60) scale(0.85 1)" >2'-2"</text>
<text font-size="8" fill="#c5c9d6" text-anchor="middle" transform="translate(494.50 748.60) scale(0.85 1)" >4'-8"</text>
<text font-size="8" fill="#c5c9d6" text-anchor="middle" transform="translate(541.30 748.60) scale(0.85 1)" >3'-2"</text>
<text font-size="8" fill="#c5c9d6" text-anchor="middle" transform="translate(212.70 766.40) scale(0.85 1)" >2'-8"</text>
<text font-size="8" fill="#c5c9d6" text-anchor="middle" transform="translate(287.20 766.40) scale(0.85 1)" >10'-0"</text>
<text font-size="8" fill="#c5c9d6" text-anchor="middle" transform="translate(394.00 766.40) scale(0.85 1)" >8'-0"</text>
<text font-size="8" fill="#c5c9d6" text-anchor="middle" transform="translate(500.40 766.40) scale(0.85 1)" >10'-0"</text>
<text font-size="8" fill="#c5c9d6" text-anchor="middle" transform="translate(378.50 780.20) scale(0.85 1)" >30'-8"</text>
<line x1="384.50" y1="168.00" x2="384.50" y2="474.00" stroke="#a8adc2" stroke-width="1" />
<line x1="382.10" y1="170.90" x2="386.90" y2="175.70" stroke="#c3c7d6" stroke-width="1.4" />
<line x1="382.10" y1="175.40" x2="386.90" y2="180.20" stroke="#c3c7d6" stroke-width="1.4" />
<text font-size="8" fill="#c5c9d6" text-anchor="middle" transform="translate(382.50 245.00) rotate(-90) scale(0.85 1)" >11'-4"</text>
<text font-size="6" fill="#c5c9d6" text-anchor="middle" transform="translate(390.50 181.50) rotate(-90) scale(0.85 1)" >4"</text>
<line x1="421.00" y1="229.50" x2="544.60" y2="229.50" stroke="#a8adc2" stroke-width="1" />
<line x1="419.10" y1="231.90" x2="423.90" y2="227.10" stroke="#c3c7d6" stroke-width="1.4" />
<line x1="542.20" y1="231.90" x2="547.00" y2="227.10" stroke="#c3c7d6" stroke-width="1.4" />
<text font-size="8" fill="#c5c9d6" text-anchor="middle" transform="translate(484.00 227.60) scale(0.85 1)" >10'-4"</text>
<line x1="498.50" y1="173.30" x2="498.50" y2="654.00" stroke="#a8adc2" stroke-width="1" />
<line x1="496.10" y1="171.20" x2="500.90" y2="176.00" stroke="#c3c7d6" stroke-width="1.4" />
<line x1="496.10" y1="244.20" x2="500.90" y2="249.00" stroke="#c3c7d6" stroke-width="1.4" />
<text font-size="8" fill="#c5c9d6" text-anchor="middle" transform="translate(496.50 212.00) rotate(-90) scale(0.85 1)" >6'-4"</text>
<text font-size="8" fill="#c5c9d6" text-anchor="middle" transform="translate(496.50 282.00) rotate(-90) scale(0.85 1)" >6'-0"</text>
<line x1="492.70" y1="319.50" x2="516.40" y2="319.50" stroke="#a8adc2" stroke-width="1" />
<line x1="496.10" y1="317.10" x2="500.90" y2="321.90" stroke="#c3c7d6" stroke-width="1.4" />
<line x1="426.30" y1="364.00" x2="555.30" y2="364.00" stroke="#a8adc2" stroke-width="1" />
<line x1="423.90" y1="366.40" x2="428.70" y2="361.60" stroke="#c3c7d6" stroke-width="1.4" />
<line x1="512.10" y1="366.40" x2="516.90" y2="361.60" stroke="#c3c7d6" stroke-width="1.4" />
<line x1="552.90" y1="366.40" x2="557.70" y2="361.60" stroke="#c3c7d6" stroke-width="1.4" />
<text font-size="8" fill="#c5c9d6" text-anchor="middle" transform="translate(472.00 362.50) scale(0.85 1)" >7'-6"</text>
<text font-size="8" fill="#c5c9d6" text-anchor="middle" transform="translate(536.50 362.50) scale(0.85 1)" >3'-10"</text>
<text font-size="6" fill="#c5c9d6" text-anchor="middle" transform="translate(503.00 357.00) rotate(-90) scale(0.85 1)" >6"</text>
<line x1="496.10" y1="396.60" x2="500.90" y2="401.40" stroke="#c3c7d6" stroke-width="1.4" />
<line x1="201.00" y1="364.00" x2="421.70" y2="364.00" stroke="#a8adc2" stroke-width="1" />
<line x1="198.60" y1="366.40" x2="203.40" y2="361.60" stroke="#c3c7d6" stroke-width="1.4" />
<line x1="307.00" y1="366.40" x2="311.80" y2="361.60" stroke="#c3c7d6" stroke-width="1.4" />
<line x1="419.30" y1="366.40" x2="424.10" y2="361.60" stroke="#c3c7d6" stroke-width="1.4" />
<line x1="218.50" y1="307.60" x2="218.50" y2="716.50" stroke="#a8adc2" stroke-width="1" />
<line x1="216.10" y1="305.20" x2="220.90" y2="310.00" stroke="#c3c7d6" stroke-width="1.4" />
<line x1="216.10" y1="309.80" x2="220.90" y2="314.60" stroke="#c3c7d6" stroke-width="1.4" />
<line x1="216.10" y1="444.10" x2="220.90" y2="448.90" stroke="#c3c7d6" stroke-width="1.4" />
<line x1="216.10" y1="475.40" x2="220.90" y2="480.20" stroke="#c3c7d6" stroke-width="1.4" />
<line x1="216.10" y1="534.10" x2="220.90" y2="538.90" stroke="#c3c7d6" stroke-width="1.4" />
<line x1="216.10" y1="539.00" x2="220.90" y2="543.80" stroke="#c3c7d6" stroke-width="1.4" />
<line x1="216.10" y1="565.90" x2="220.90" y2="570.70" stroke="#c3c7d6" stroke-width="1.4" />
<line x1="216.10" y1="703.60" x2="220.90" y2="708.40" stroke="#c3c7d6" stroke-width="1.4" />
<line x1="216.10" y1="708.20" x2="220.90" y2="713.00" stroke="#c3c7d6" stroke-width="1.4" />
<text font-size="8" fill="#c5c9d6" text-anchor="middle" transform="translate(216.50 379.00) rotate(-90) scale(0.85 1)" >11'-4"</text>
<text font-size="6" fill="#c5c9d6" text-anchor="middle" transform="translate(224.50 301.50) rotate(-90) scale(0.85 1)" >4"</text>
<text font-size="8" fill="#c5c9d6" text-anchor="middle" transform="translate(382.50 379.00) rotate(-90) scale(0.85 1)" >11'-4"</text>
<line x1="382.10" y1="305.20" x2="386.90" y2="310.00" stroke="#c3c7d6" stroke-width="1.4" />
<line x1="382.10" y1="309.80" x2="386.90" y2="314.60" stroke="#c3c7d6" stroke-width="1.4" />
<line x1="382.10" y1="444.10" x2="386.90" y2="448.90" stroke="#c3c7d6" stroke-width="1.4" />
<line x1="382.10" y1="467.20" x2="386.90" y2="472.00" stroke="#c3c7d6" stroke-width="1.4" />
<line x1="382.10" y1="645.20" x2="386.90" y2="650.00" stroke="#c3c7d6" stroke-width="1.4" />
<line x1="382.10" y1="703.60" x2="386.90" y2="708.40" stroke="#c3c7d6" stroke-width="1.4" />
<line x1="382.10" y1="708.20" x2="386.90" y2="713.00" stroke="#c3c7d6" stroke-width="1.4" />
<line x1="384.50" y1="474.00" x2="384.50" y2="715.50" stroke="#a8adc2" stroke-width="1" />
<line x1="257.30" y1="425.50" x2="290.50" y2="392.70" stroke="#a8adc2" stroke-width="1" />
<line x1="254.49" y1="422.65" x2="269.25" y2="437.59" stroke="#a8adc2" stroke-width="1" />
<line x1="255.70" y1="425.50" x2="258.90" y2="425.50" stroke="#a8adc2" stroke-width="1" />
<line x1="287.69" y1="389.85" x2="302.45" y2="404.79" stroke="#a8adc2" stroke-width="1" />
<line x1="288.90" y1="392.70" x2="292.10" y2="392.70" stroke="#a8adc2" stroke-width="1" />
<text font-size="7.5" fill="#c5c9d6" text-anchor="middle" transform="translate(271.50 406.00) rotate(-45) scale(0.9 1)" >3'-11 1/2"</text>
<line x1="328.30" y1="392.70" x2="361.50" y2="425.50" stroke="#a8adc2" stroke-width="1" />
<line x1="331.11" y1="389.85" x2="316.35" y2="404.79" stroke="#a8adc2" stroke-width="1" />
<line x1="326.70" y1="392.70" x2="329.90" y2="392.70" stroke="#a8adc2" stroke-width="1" />
<line x1="364.31" y1="422.65" x2="349.55" y2="437.59" stroke="#a8adc2" stroke-width="1" />
<line x1="359.90" y1="425.50" x2="363.10" y2="425.50" stroke="#a8adc2" stroke-width="1" />
<text font-size="7.5" fill="#c5c9d6" text-anchor="middle" transform="translate(347.50 405.00) rotate(45) scale(0.9 1)" >3'-11 1/2"</text>
<text font-size="7.5" fill="#c5c9d6" text-anchor="middle" transform="translate(226.00 458.00) rotate(-90) scale(0.85 1)" >2'-8"</text>
<text font-size="7.5" fill="#c5c9d6" text-anchor="middle" transform="translate(392.50 450.50) rotate(-90) scale(0.85 1)" >2'-4"</text>
<line x1="308.20" y1="446.40" x2="308.20" y2="541.00" stroke="#a8adc2" stroke-width="1" />
<line x1="278.20" y1="446.40" x2="314.40" y2="446.40" stroke="#a8adc2" stroke-width="1" />
<line x1="303.50" y1="473.70" x2="314.40" y2="473.70" stroke="#a8adc2" stroke-width="1" />
<line x1="305.80" y1="444.00" x2="310.60" y2="448.80" stroke="#c3c7d6" stroke-width="1.4" />
<line x1="305.80" y1="471.30" x2="310.60" y2="476.10" stroke="#c3c7d6" stroke-width="1.4" />
<line x1="305.80" y1="538.60" x2="310.60" y2="543.40" stroke="#c3c7d6" stroke-width="1.4" />
<text font-size="7.5" fill="#c5c9d6" text-anchor="middle" transform="translate(306.30 460.00) rotate(-90) scale(0.85 1)" >2'-4"</text>
<text font-size="7.5" fill="#c5c9d6" text-anchor="middle" transform="translate(306.30 507.30) rotate(-90) scale(0.85 1)" >5'-8"</text>
<line x1="303.00" y1="541.00" x2="314.00" y2="541.00" stroke="#a8adc2" stroke-width="1" />
<line x1="201.00" y1="506.10" x2="275.50" y2="506.10" stroke="#a8adc2" stroke-width="1" />
<line x1="198.60" y1="508.50" x2="203.40" y2="503.70" stroke="#c3c7d6" stroke-width="1.4" />
<line x1="245.80" y1="508.50" x2="250.60" y2="503.70" stroke="#c3c7d6" stroke-width="1.4" />
<line x1="273.10" y1="508.50" x2="277.90" y2="503.70" stroke="#c3c7d6" stroke-width="1.4" />
<line x1="248.20" y1="474.00" x2="248.20" y2="510.00" stroke="#a8adc2" stroke-width="1" />
<line x1="275.50" y1="474.00" x2="275.50" y2="510.00" stroke="#a8adc2" stroke-width="1" />
<text font-size="8" fill="#c5c9d6" text-anchor="middle" transform="translate(214.50 503.80) scale(0.85 1)" >4'-0"</text>
<text font-size="8" fill="#c5c9d6" text-anchor="middle" transform="translate(262.30 503.80) scale(0.85 1)" >2'-4"</text>
<text font-size="8" fill="#c5c9d6" text-anchor="middle" transform="translate(225.50 517.80) rotate(-90) scale(0.85 1)" >5'-4"</text>
<text font-size="7.5" fill="#c5c9d6" text-anchor="middle" transform="translate(225.50 558.50) rotate(-90) scale(0.85 1)" >2'-4"</text>
<line x1="214.00" y1="568.20" x2="224.00" y2="568.20" stroke="#a8adc2" stroke-width="1" />
<line x1="347.00" y1="493.50" x2="555.30" y2="493.50" stroke="#a8adc2" stroke-width="1" />
<line x1="344.60" y1="495.90" x2="349.40" y2="491.10" stroke="#c3c7d6" stroke-width="1.4" />
<line x1="371.90" y1="495.90" x2="376.70" y2="491.10" stroke="#c3c7d6" stroke-width="1.4" />
<line x1="423.10" y1="495.90" x2="427.90" y2="491.10" stroke="#c3c7d6" stroke-width="1.4" />
<line x1="552.90" y1="495.90" x2="557.70" y2="491.10" stroke="#c3c7d6" stroke-width="1.4" />
<line x1="374.30" y1="475.70" x2="374.30" y2="499.30" stroke="#a8adc2" stroke-width="1" />
<line x1="425.50" y1="479.80" x2="425.50" y2="499.30" stroke="#a8adc2" stroke-width="1" />
<text font-size="8" fill="#c5c9d6" text-anchor="middle" transform="translate(360.50 491.70) scale(0.85 1)" >2'-4"</text>
<text font-size="8" fill="#c5c9d6" text-anchor="middle" transform="translate(400.00 491.70) scale(0.85 1)" >4'-4"</text>
<text font-size="8" fill="#c5c9d6" text-anchor="middle" transform="translate(482.70 489.90) scale(0.85 1)" >11'-4"</text>
<line x1="201.00" y1="589.60" x2="564.00" y2="589.60" stroke="#a8adc2" stroke-width="1" />
<line x1="198.60" y1="592.00" x2="203.40" y2="587.20" stroke="#c3c7d6" stroke-width="1.4" />
<line x1="299.40" y1="592.00" x2="304.20" y2="587.20" stroke="#c3c7d6" stroke-width="1.4" />
<line x1="342.60" y1="592.00" x2="347.40" y2="587.20" stroke="#c3c7d6" stroke-width="1.4" />
<line x1="552.90" y1="592.00" x2="557.70" y2="587.20" stroke="#c3c7d6" stroke-width="1.4" />
<line x1="557.40" y1="592.00" x2="562.20" y2="587.20" stroke="#c3c7d6" stroke-width="1.4" />
<line x1="301.80" y1="578.00" x2="301.80" y2="596.00" stroke="#a8adc2" stroke-width="1" />
<text font-size="8" fill="#c5c9d6" text-anchor="middle" transform="translate(207.50 587.60) scale(0.85 1)" >4"</text>
<text font-size="8" fill="#c5c9d6" text-anchor="middle" transform="translate(251.50 587.60) scale(0.85 1)" >8'-6"</text>
<text font-size="8" fill="#c5c9d6" text-anchor="middle" transform="translate(324.00 587.60) scale(0.85 1)" >3'-10"</text>
<text font-size="8" fill="#c5c9d6" text-anchor="middle" transform="translate(451.40 587.80) scale(0.85 1)" >17'-8"</text>
<text font-size="8" fill="#c5c9d6" text-anchor="middle" transform="translate(548.80 584.60) scale(0.85 1)" >4"</text>
<text font-size="8" fill="#c5c9d6" text-anchor="middle" transform="translate(382.50 560.30) rotate(-90) scale(0.85 1)" >14'-8"</text>
<text font-size="8" fill="#c5c9d6" text-anchor="middle" transform="translate(496.50 521.00) rotate(-90) scale(0.85 1)" >20'-8"</text>
<text font-size="8" fill="#c5c9d6" text-anchor="middle" transform="translate(216.50 637.00) rotate(-90) scale(0.85 1)" >11'-8"</text>
<text font-size="6" fill="#c5c9d6" text-anchor="middle" transform="translate(225.00 702.00) rotate(-90) scale(0.85 1)" >4"</text>
<text font-size="8" fill="#c5c9d6" text-anchor="middle" transform="translate(392.00 685.50) rotate(-90) scale(0.85 1)" >5'-0"</text>
<text font-size="6" fill="#c5c9d6" text-anchor="middle" transform="translate(392.50 700.50) rotate(-90) scale(0.85 1)" >4"</text>
<text font-size="6" fill="#c5c9d6" text-anchor="middle" transform="translate(504.50 638.50) rotate(-90) scale(0.85 1)" >4"</text>
<line x1="496.10" y1="640.60" x2="500.90" y2="645.40" stroke="#c3c7d6" stroke-width="1.4" />
<line x1="496.10" y1="645.20" x2="500.90" y2="650.00" stroke="#c3c7d6" stroke-width="1.4" />
<text font-size="6" fill="#c5c9d6" text-anchor="middle" transform="translate(583.50 561.00) rotate(-90) scale(0.85 1)" >4"</text>
<text font-size="11" fill="#35d43b" x="440.40" y="200.00" textLength="70.60" lengthAdjust="spacingAndGlyphs" >DECK/PATIO</text>
<line x1="440.40" y1="202.50" x2="511.00" y2="202.50" stroke="#20922b" stroke-width="1.3" />
<text font-size="11.8" fill="#f3f4f9" x="458.00" y="210.30" textLength="35.00" lengthAdjust="spacingAndGlyphs" font-weight="bold" >10'-0"x6'-0"</text>
<text font-size="15" fill="#35d43b" x="457.80" y="341.30" textLength="66.70" lengthAdjust="spacingAndGlyphs" >KITCHEN</text>
<line x1="457.80" y1="344.60" x2="524.50" y2="344.60" stroke="#20922b" stroke-width="1.3" />
<text font-size="14.8" fill="#f3f4f9" x="464.50" y="356.00" textLength="52.80" lengthAdjust="spacingAndGlyphs" font-weight="bold" >11'-0"x12'-4"</text>
<text font-size="15" fill="#35d43b" x="227.60" y="349.60" textLength="58.80" lengthAdjust="spacingAndGlyphs" >BDRM. 3</text>
<line x1="227.60" y1="352.80" x2="286.40" y2="352.80" stroke="#20922b" stroke-width="1.3" />
<text font-size="14.8" fill="#f3f4f9" x="232.70" y="364.50" textLength="47.30" lengthAdjust="spacingAndGlyphs" font-weight="bold" >9'-0"x11'-0"</text>
<text font-size="15" fill="#35d43b" x="324.50" y="349.60" textLength="59.00" lengthAdjust="spacingAndGlyphs" >BDRM. 2</text>
<line x1="324.50" y1="352.80" x2="383.50" y2="352.80" stroke="#20922b" stroke-width="1.3" />
<text font-size="14.8" fill="#f3f4f9" x="330.00" y="364.50" textLength="47.30" lengthAdjust="spacingAndGlyphs" font-weight="bold" >9'-4"x11'-0"</text>
<text font-size="15" fill="#35d43b" x="455.50" y="435.00" textLength="55.50" lengthAdjust="spacingAndGlyphs" >DINING</text>
<line x1="455.50" y1="437.80" x2="511.00" y2="437.80" stroke="#20922b" stroke-width="1.3" />
<text font-size="14.8" fill="#f3f4f9" x="459.80" y="449.00" textLength="46.40" lengthAdjust="spacingAndGlyphs" font-weight="bold" >11'-0"x6'-4"</text>
<text font-size="15" fill="#35d43b" x="426.20" y="553.40" textLength="52.10" lengthAdjust="spacingAndGlyphs" >LIVING</text>
<line x1="426.20" y1="555.60" x2="478.30" y2="555.60" stroke="#20922b" stroke-width="1.3" />
<text font-size="14.8" fill="#f3f4f9" x="425.40" y="567.40" textLength="52.20" lengthAdjust="spacingAndGlyphs" font-weight="bold" >17'-8"x14'-4"</text>
<text font-size="15" fill="#35d43b" x="233.00" y="633.30" textLength="61.20" lengthAdjust="spacingAndGlyphs" >MASTER</text>
<line x1="233.00" y1="636.40" x2="294.20" y2="636.40" stroke="#20922b" stroke-width="1.3" />
<text font-size="14.8" fill="#f3f4f9" x="237.30" y="648.50" textLength="52.70" lengthAdjust="spacingAndGlyphs" font-weight="bold" >12'-0"x13'-0"</text>
<text font-size="15" fill="#35d43b" x="465.80" y="680.00" textLength="51.80" lengthAdjust="spacingAndGlyphs" >PORCH</text>
<line x1="465.80" y1="683.30" x2="517.60" y2="683.30" stroke="#20922b" stroke-width="1.3" />
<text font-size="7.8" fill="#c9cdda" text-anchor="end" x="509.60" y="162.70" textLength="56.00" lengthAdjust="spacingAndGlyphs" >PROVIDE STEPS</text>
<text font-size="7.8" fill="#c9cdda" text-anchor="end" x="509.60" y="170.50" textLength="53.20" lengthAdjust="spacingAndGlyphs" >AS PER GRADE</text>
<text font-size="7.8" fill="#c9cdda" text-anchor="end" x="523.60" y="718.20" textLength="56.00" lengthAdjust="spacingAndGlyphs" >PROVIDE STEPS</text>
<text font-size="7.8" fill="#c9cdda" text-anchor="end" x="523.60" y="725.80" textLength="53.20" lengthAdjust="spacingAndGlyphs" >AS PER GRADE</text>
<text font-size="7.5" fill="#c9cdda" x="288.70" y="238.60" textLength="40.30" lengthAdjust="spacingAndGlyphs" >OPT. DOOR</text>
<text font-size="7.5" fill="#c9cdda" x="288.70" y="246.00" textLength="44.50" lengthAdjust="spacingAndGlyphs" >FOR CRAWL</text>
<text font-size="7.5" fill="#c9cdda" x="288.70" y="253.00" textLength="50.70" lengthAdjust="spacingAndGlyphs" >FOUNDATION</text>
<text font-size="8.2" fill="#c9cdda" x="373.60" y="227.30" textLength="35.10" lengthAdjust="spacingAndGlyphs" >STORAGE</text>
<line x1="373.60" y1="229.00" x2="408.70" y2="229.00" stroke="#c9cdda" stroke-width="0.8" />
<text font-size="7.5" fill="#c9cdda" x="446.40" y="212.70" textLength="39.00" lengthAdjust="spacingAndGlyphs" >DOOR OR</text>
<text font-size="7.5" fill="#c9cdda" x="448.50" y="219.00" textLength="20.00" lengthAdjust="spacingAndGlyphs" >SLAB.</text>
<text font-size="8" fill="#c9cdda" text-anchor="middle" transform="translate(461.80 266.00) rotate(-90)" textLength="26.30" lengthAdjust="spacingAndGlyphs" >REFRG.</text>
<text transform="translate(466.40 255.00)" font-size="8.3" fill="#c9cdda">2<tspan font-size="4.6" dy="-3.4" dx="0.6">8</tspan><tspan dy="3.4" font-size="8.3"> </tspan>FR.</text>
<text transform="translate(516.40 282.70) rotate(-90)" font-size="8" fill="#c9cdda" text-anchor="middle">5<tspan font-size="4.6" dy="-3.4" dx="0.6">0</tspan><tspan dy="3.4" font-size="8"> </tspan>BIF</text>
<text font-size="8" fill="#c9cdda" text-anchor="middle" x="544.00" y="272.90" >D</text>
<text font-size="8" fill="#c9cdda" text-anchor="middle" x="543.70" y="303.00" >W</text>
<text font-size="8.2" fill="#c9cdda" x="522.20" y="328.70" textLength="32.00" lengthAdjust="spacingAndGlyphs" >SHELVES</text>
<text font-size="8" fill="#c9cdda" text-anchor="middle" transform="translate(455.00 328.60) rotate(-90)" textLength="26.30" lengthAdjust="spacingAndGlyphs" >RANGE</text>
<text font-size="8" fill="#c9cdda" x="496.40" y="385.80" textLength="12.60" lengthAdjust="spacingAndGlyphs" >DW</text>
<text font-size="7.8" fill="#c9cdda" x="441.00" y="405.60" textLength="53.50" lengthAdjust="spacingAndGlyphs" >46" WALL HGT.</text>
<text font-size="7.8" fill="#c9cdda" x="434.50" y="412.00" textLength="60.00" lengthAdjust="spacingAndGlyphs" >OPT. 16" BARTOP</text>
<rect x="346.20" y="460.60" width="25.40" height="7.20" fill="#24283b" />
<text font-size="8" fill="#c9cdda" x="346.60" y="466.60" textLength="24.60" lengthAdjust="spacingAndGlyphs" >COATS</text>
<text font-size="8" fill="#c9cdda" text-anchor="middle" transform="translate(268.70 458.00) rotate(-90)" textLength="15.00" lengthAdjust="spacingAndGlyphs" >LIN.</text>
<text transform="translate(341.60 495.00) rotate(-90)" font-size="8" fill="#c9cdda" text-anchor="middle">3<tspan font-size="4.6" dy="-3.4" dx="0.6">0</tspan><tspan dy="3.4" font-size="8"> </tspan> C.O.</text>
<text font-size="7.8" fill="#c9cdda" x="513.30" y="694.40" textLength="25.30" lengthAdjust="spacingAndGlyphs" >8" COL.</text>
<line x1="539.50" y1="691.50" x2="553.60" y2="701.30" stroke="#a8adc2" stroke-width="1" />
<path d="M553.6 701.3 L550.2 700.6 L551.8 698.4 Z" fill="#a8adc2" stroke="#a8adc2" stroke-width="0.5" />
<text transform="translate(288.50 305.00) scale(0.97 1)" font-size="8" fill="#c9cdda" text-anchor="middle">2<tspan font-size="4.6" dy="-3.4" dx="0.6">8</tspan><tspan dy="3.4" font-size="8"> </tspan> <tspan font-size="6" dy="-0.6">x</tspan><tspan dy="0.6"> </tspan>5<tspan font-size="4.6" dy="-3.4" dx="0.6">2</tspan><tspan dy="3.4" font-size="8"> </tspan> SH</text>
<text transform="translate(333.30 305.00) scale(0.97 1)" font-size="8" fill="#c9cdda" text-anchor="middle">2<tspan font-size="4.6" dy="-3.4" dx="0.6">8</tspan><tspan dy="3.4" font-size="8"> </tspan> <tspan font-size="6" dy="-0.6">x</tspan><tspan dy="0.6"> </tspan>5<tspan font-size="4.6" dy="-3.4" dx="0.6">2</tspan><tspan dy="3.4" font-size="8"> </tspan> SH</text>
<text transform="translate(569.50 358.00) rotate(-90) scale(0.97 1)" font-size="8" fill="#c9cdda" text-anchor="middle">2<tspan font-size="4.6" dy="-3.4" dx="0.6">8</tspan><tspan dy="3.4" font-size="8"> </tspan> <tspan font-size="6" dy="-0.6">x</tspan><tspan dy="0.6"> </tspan>5<tspan font-size="4.6" dy="-3.4" dx="0.6">2</tspan><tspan dy="3.4" font-size="8"> </tspan> SH</text>
<text transform="translate(569.50 431.00) rotate(-90) scale(0.97 1)" font-size="8" fill="#c9cdda" text-anchor="middle">2- 2<tspan font-size="4.6" dy="-3.4" dx="0.6">8</tspan><tspan dy="3.4" font-size="8"> </tspan> <tspan font-size="6" dy="-0.6">x</tspan><tspan dy="0.6"> </tspan>5<tspan font-size="4.6" dy="-3.4" dx="0.6">2</tspan><tspan dy="3.4" font-size="8"> </tspan> SH</text>
<text transform="translate(569.50 508.00) rotate(-90) scale(0.97 1)" font-size="8" fill="#c9cdda" text-anchor="middle">2<tspan font-size="4.6" dy="-3.4" dx="0.6">8</tspan><tspan dy="3.4" font-size="8"> </tspan> <tspan font-size="6" dy="-0.6">x</tspan><tspan dy="0.6"> </tspan>5<tspan font-size="4.6" dy="-3.4" dx="0.6">2</tspan><tspan dy="3.4" font-size="8"> </tspan> SH</text>
<text transform="translate(569.50 609.50) rotate(-90) scale(0.97 1)" font-size="8" fill="#c9cdda" text-anchor="middle">2<tspan font-size="4.6" dy="-3.4" dx="0.6">8</tspan><tspan dy="3.4" font-size="8"> </tspan> <tspan font-size="6" dy="-0.6">x</tspan><tspan dy="0.6"> </tspan>5<tspan font-size="4.6" dy="-3.4" dx="0.6">2</tspan><tspan dy="3.4" font-size="8"> </tspan> SH</text>
<text transform="translate(286.50 735.50) scale(0.97 1)" font-size="8" fill="#c9cdda" text-anchor="middle">2- 2<tspan font-size="4.6" dy="-3.4" dx="0.6">8</tspan><tspan dy="3.4" font-size="8"> </tspan> <tspan font-size="6" dy="-0.6">x</tspan><tspan dy="0.6"> </tspan>5<tspan font-size="4.6" dy="-3.4" dx="0.6">2</tspan><tspan dy="3.4" font-size="8"> </tspan> SH</text>
<text transform="translate(388.80 721.00) scale(0.97 1)" font-size="8" fill="#c9cdda" text-anchor="middle">2<tspan font-size="4.6" dy="-3.4" dx="0.6">4</tspan><tspan dy="3.4" font-size="8"> </tspan> <tspan font-size="6" dy="-0.6">x</tspan><tspan dy="0.6"> </tspan>3<tspan font-size="4.6" dy="-3.4" dx="0.6">2</tspan><tspan dy="3.4" font-size="8"> </tspan> SH</text>
<text transform="translate(524.00 656.80) scale(0.97 1)" font-size="8" fill="#c9cdda" text-anchor="middle">2<tspan font-size="4.6" dy="-3.4" dx="0.6">8</tspan><tspan dy="3.4" font-size="8"> </tspan> <tspan font-size="6" dy="-0.6">x</tspan><tspan dy="0.6"> </tspan>5<tspan font-size="4.6" dy="-3.4" dx="0.6">2</tspan><tspan dy="3.4" font-size="8"> </tspan> SH</text>
<text transform="translate(190.20 421.80) rotate(-90) scale(0.93 1)" font-size="8" fill="#c9cdda" text-anchor="middle">2<tspan font-size="4.6" dy="-3.4" dx="0.6">0</tspan><tspan dy="3.4" font-size="8"> </tspan> <tspan font-size="6" dy="-0.6">x</tspan><tspan dy="0.6"> </tspan>3<tspan font-size="4.6" dy="-3.4" dx="0.6">0</tspan><tspan dy="3.4" font-size="8"> </tspan> FXD.</text>
<text transform="translate(190.20 504.00) rotate(-90) scale(0.93 1)" font-size="8" fill="#c9cdda" text-anchor="middle">3<tspan font-size="4.6" dy="-3.4" dx="0.6">0</tspan><tspan dy="3.4" font-size="8"> </tspan> <tspan font-size="6" dy="-0.6">x</tspan><tspan dy="0.6"> </tspan>1<tspan font-size="4.6" dy="-3.4" dx="0.6">0</tspan><tspan dy="3.4" font-size="8"> </tspan> FXD.</text>
<text transform="translate(192.00 586.40) rotate(-90) scale(0.93 1)" font-size="8" fill="#c9cdda" text-anchor="middle">2<tspan font-size="4.6" dy="-3.4" dx="0.6">0</tspan><tspan dy="3.4" font-size="8"> </tspan> <tspan font-size="6" dy="-0.6">x</tspan><tspan dy="0.6"> </tspan>2<tspan font-size="4.6" dy="-3.4" dx="0.6">0</tspan><tspan dy="3.4" font-size="8"> </tspan> FXD.</text>
<text transform="translate(431.80 223.60)" font-size="8.3" fill="#c9cdda">2<tspan font-size="4.6" dy="-3.4" dx="0.6">8</tspan><tspan dy="3.4" font-size="8.3"> </tspan></text>
<text transform="translate(283.30 428.20)" font-size="8.3" fill="#c9cdda">2<tspan font-size="4.6" dy="-3.4" dx="0.6">8</tspan><tspan dy="3.4" font-size="8.3"> </tspan></text>
<text transform="translate(332.70 428.20)" font-size="8.3" fill="#c9cdda">2<tspan font-size="4.6" dy="-3.4" dx="0.6">8</tspan><tspan dy="3.4" font-size="8.3"> </tspan></text>
<text transform="translate(221.60 440.00)" font-size="8.3" fill="#c9cdda">2<tspan font-size="4.6" dy="-3.4" dx="0.6">4</tspan><tspan dy="3.4" font-size="8.3"> </tspan></text>
<text transform="translate(392.70 440.00)" font-size="8.3" fill="#c9cdda">2<tspan font-size="4.6" dy="-3.4" dx="0.6">4</tspan><tspan dy="3.4" font-size="8.3"> </tspan></text>
<text transform="translate(273.50 459.80)" font-size="8.3" fill="#c9cdda">1<tspan font-size="4.6" dy="-3.4" dx="0.6">6</tspan><tspan dy="3.4" font-size="8.3"> </tspan></text>
<text transform="translate(359.60 474.80)" font-size="8.3" fill="#c9cdda">1<tspan font-size="4.6" dy="-3.4" dx="0.6">6</tspan><tspan dy="3.4" font-size="8.3"> </tspan></text>
<text transform="translate(287.30 515.50)" font-size="8.3" fill="#c9cdda">2<tspan font-size="4.6" dy="-3.4" dx="0.6">10</tspan><tspan dy="3.4" font-size="8.3"> </tspan></text>
<text transform="translate(317.80 546.00)" font-size="8.3" fill="#c9cdda">2<tspan font-size="4.6" dy="-3.4" dx="0.6">8</tspan><tspan dy="3.4" font-size="8.3"> </tspan></text>
<text transform="translate(230.00 572.40)" font-size="8.3" fill="#c9cdda">1<tspan font-size="4.6" dy="-3.4" dx="0.6">6</tspan><tspan dy="3.4" font-size="8.3"> </tspan></text>
<text transform="translate(262.70 569.60)" font-size="8.3" fill="#c9cdda">1<tspan font-size="4.6" dy="-3.4" dx="0.6">6</tspan><tspan dy="3.4" font-size="8.3"> </tspan></text>
<text transform="translate(276.40 569.60)" font-size="8.3" fill="#c9cdda">1<tspan font-size="4.6" dy="-3.4" dx="0.6">6</tspan><tspan dy="3.4" font-size="8.3"> </tspan></text>
<text transform="translate(222.50 575.00) rotate(-90)" font-size="7" fill="#c9cdda" text-anchor="middle">1<tspan font-size="4.6" dy="-3.4" dx="0.6">6</tspan><tspan dy="3.4" font-size="7"> </tspan></text>
<text transform="translate(346.00 686.00)" font-size="8.3" fill="#c9cdda">2<tspan font-size="4.6" dy="-3.4" dx="0.6">4</tspan><tspan dy="3.4" font-size="8.3"> </tspan></text>
<text transform="translate(469.00 643.00)" font-size="8.3" fill="#c9cdda">3<tspan font-size="4.6" dy="-3.4" dx="0.6">0</tspan><tspan dy="3.4" font-size="8.3"> </tspan></text>
<circle cx="466.40" cy="300.70" r="11.80" fill="none" stroke="#a8adc2" stroke-width="1" />
<line x1="454.60" y1="300.70" x2="478.20" y2="300.70" stroke="#a8adc2" stroke-width="1" />
<rect x="401.00" y="299.10" width="18.00" height="3.20" fill="#e4e6ee" />
<text font-size="8.6" fill="#2cc6d8" text-anchor="middle" x="466.40" y="298.40" font-weight="bold" font-family="Liberation Sans, sans-serif">2</text>
<text font-size="8.6" fill="#2cc6d8" text-anchor="middle" x="466.40" y="309.30" font-weight="bold" font-family="Liberation Sans, sans-serif">7</text>
<circle cx="179.00" cy="614.00" r="11.60" fill="none" stroke="#a8adc2" stroke-width="1" />
<line x1="167.40" y1="614.00" x2="190.60" y2="614.00" stroke="#a8adc2" stroke-width="1" />
<rect x="226.70" y="612.40" width="17.50" height="3.20" fill="#e4e6ee" />
<text font-size="8.6" fill="#2cc6d8" text-anchor="middle" x="179.00" y="611.70" font-weight="bold" font-family="Liberation Sans, sans-serif">1</text>
<text font-size="8.6" fill="#2cc6d8" text-anchor="middle" x="179.00" y="622.60" font-weight="bold" font-family="Liberation Sans, sans-serif">7</text>
<circle cx="574.50" cy="547.30" r="12.00" fill="none" stroke="#a8adc2" stroke-width="1" />
<line x1="562.50" y1="547.30" x2="586.50" y2="547.30" stroke="#a8adc2" stroke-width="1" />
<rect x="509.40" y="545.70" width="17.80" height="3.20" fill="#e4e6ee" />
<text font-size="8.6" fill="#2cc6d8" text-anchor="middle" x="574.50" y="545.00" font-weight="bold" font-family="Liberation Sans, sans-serif">1</text>
<text font-size="8.6" fill="#2cc6d8" text-anchor="middle" x="574.50" y="555.90" font-weight="bold" font-family="Liberation Sans, sans-serif">7</text>
<text font-size="5.4" fill="#bcbc38" text-anchor="middle" x="229.30" y="465.50" textLength="13.40" lengthAdjust="spacingAndGlyphs" font-weight="bold" >1R/1S</text>
<text font-size="5.4" fill="#bcbc38" text-anchor="middle" x="358.00" y="452.00" textLength="13.40" lengthAdjust="spacingAndGlyphs" font-weight="bold" >1R/1S</text>
<text font-size="5.4" fill="#bcbc38" text-anchor="middle" x="404.40" y="466.80" textLength="13.40" lengthAdjust="spacingAndGlyphs" font-weight="bold" >1R/1S</text>
<text font-size="5.4" fill="#bcbc38" text-anchor="middle" x="263.20" y="547.80" textLength="13.40" lengthAdjust="spacingAndGlyphs" font-weight="bold" >1R/1S</text>
<text font-size="5.4" fill="#bcbc38" text-anchor="middle" transform="translate(257.30 458.00) rotate(-90)" textLength="6.20" lengthAdjust="spacingAndGlyphs" font-weight="bold" >5S</text>
<text font-size="5.4" fill="#bcbc38" text-anchor="middle" transform="translate(263.00 486.00) rotate(-90)" textLength="6.20" lengthAdjust="spacingAndGlyphs" font-weight="bold" >TP</text>
<text font-size="5.4" fill="#bcbc38" text-anchor="middle" transform="translate(296.20 486.00) rotate(-90)" textLength="6.20" lengthAdjust="spacingAndGlyphs" font-weight="bold" >TR</text>
<text font-size="5.4" fill="#bcbc38" text-anchor="middle" x="256.00" y="535.00" textLength="6.20" lengthAdjust="spacingAndGlyphs" font-weight="bold" >TB</text>
<text font-size="5.4" fill="#bcbc38" text-anchor="middle" transform="translate(351.40 660.50) rotate(-90)" textLength="6.20" lengthAdjust="spacingAndGlyphs" font-weight="bold" >TR</text>
<text font-size="5.4" fill="#bcbc38" text-anchor="middle" transform="translate(381.00 660.50) rotate(-90)" textLength="6.20" lengthAdjust="spacingAndGlyphs" font-weight="bold" >TP</text>
<text font-size="5.4" fill="#bcbc38" text-anchor="middle" x="397.00" y="652.70" textLength="6.20" lengthAdjust="spacingAndGlyphs" font-weight="bold" >TB</text>
<rect x="244.60" y="425.30" width="4.20" height="4.00" fill="#ee1717" rx="1.2"/>
<text font-size="4.6" fill="#bcbc38" text-anchor="middle" x="242.50" y="433.60" textLength="6.00" lengthAdjust="spacingAndGlyphs" font-weight="bold" >SD</text>
<rect x="373.40" y="421.50" width="4.20" height="4.00" fill="#ee1717" rx="1.2"/>
<text font-size="4.6" fill="#bcbc38" text-anchor="middle" x="371.50" y="429.60" textLength="6.00" lengthAdjust="spacingAndGlyphs" font-weight="bold" >SD</text>
<rect x="324.10" y="484.00" width="4.20" height="4.00" fill="#ee1717" rx="1.2"/>
<text font-size="4.6" fill="#bcbc38" text-anchor="middle" x="322.00" y="491.30" textLength="6.00" lengthAdjust="spacingAndGlyphs" font-weight="bold" >SD</text>
<rect x="331.90" y="567.00" width="4.20" height="4.00" fill="#ee1717" rx="1.2"/>
<text font-size="4.6" fill="#bcbc38" text-anchor="middle" x="330.00" y="574.20" textLength="6.00" lengthAdjust="spacingAndGlyphs" font-weight="bold" >SD</text>
<rect x="818.00" y="31.60" width="180.90" height="162.40" fill="none" stroke="#35d43b" stroke-width="2.2"/>
<text font-size="12" fill="#35d43b" text-anchor="middle" x="909.00" y="45.90" textLength="129.00" lengthAdjust="spacingAndGlyphs" >AREA CALCULATIONS</text>
<line x1="844.50" y1="48.30" x2="973.60" y2="48.30" stroke="#2aa832" stroke-width="1" />
<text font-size="8.3" fill="#35d43b" x="823.60" y="59.50" textLength="61.50" lengthAdjust="spacingAndGlyphs" >HEATED (SQ. FT.)</text>
<text font-size="8.3" fill="#35d43b" x="912.70" y="59.50" textLength="73.00" lengthAdjust="spacingAndGlyphs" >UNHEATED (SQ. FT.)</text>
<text font-size="8.3" fill="#d6d9e4" transform="translate(823.60 70.50) scale(0.915 1)" >BASEMENT:</text>
<text font-size="8.3" fill="#d6d9e4" text-anchor="end" transform="translate(903.40 70.50) scale(1 1)" >N/A</text>
<text font-size="8.3" fill="#d6d9e4" transform="translate(823.60 80.10) scale(0.915 1)" >1ST FLOOR:</text>
<text font-size="8.3" fill="#d6d9e4" text-anchor="end" transform="translate(903.40 80.10) scale(0.85 1)" >1066</text>
<text font-size="8.3" fill="#d6d9e4" transform="translate(823.60 89.80) scale(0.915 1)" >2ND FLOOR:</text>
<text font-size="8.3" fill="#d6d9e4" text-anchor="end" transform="translate(903.40 89.80) scale(1 1)" >N/A</text>
<text font-size="8.3" fill="#d6d9e4" transform="translate(823.60 99.60) scale(0.915 1)" >REC ROOM:</text>
<text font-size="8.3" fill="#d6d9e4" text-anchor="end" transform="translate(903.40 99.60) scale(1 1)" >N/A</text>
<text font-size="8.3" fill="#d6d9e4" transform="translate(823.60 109.40) scale(0.915 1)" >ATTIC:</text>
<text font-size="8.3" fill="#d6d9e4" text-anchor="end" transform="translate(903.40 109.40) scale(1 1)" >N/A</text>
<text font-size="8.3" fill="#d6d9e4" transform="translate(912.70 70.50) scale(0.915 1)" >GARAGE:</text>
<text font-size="8.3" fill="#d6d9e4" text-anchor="end" transform="translate(991.50 70.50) scale(1 1)" >N/A</text>
<text font-size="8.3" fill="#d6d9e4" transform="translate(912.70 80.10) scale(0.915 1)" >DECK:</text>
<text font-size="8.3" fill="#d6d9e4" text-anchor="end" transform="translate(991.50 80.10) scale(0.85 1)" >60</text>
<text font-size="8.3" fill="#d6d9e4" transform="translate(912.70 89.80) scale(0.915 1)" >PORCH:</text>
<text font-size="8.3" fill="#d6d9e4" text-anchor="end" transform="translate(991.50 89.80) scale(0.85 1)" >53</text>
<text font-size="8.3" fill="#d6d9e4" transform="translate(912.70 99.40) scale(0.915 1)" >STORAGE:</text>
<text font-size="8.3" fill="#d6d9e4" text-anchor="end" transform="translate(991.50 99.40) scale(0.85 1)" >66</text>
<text font-size="8.3" fill="#d6d9e4" transform="translate(912.70 108.80) scale(0.915 1)" >BRICK:</text>
<text font-size="8.3" fill="#d6d9e4" text-anchor="end" transform="translate(991.50 108.80) scale(1 1)" >N/A</text>
<line x1="872.40" y1="113.40" x2="905.80" y2="113.40" stroke="#a8adc2" stroke-width="1" />
<line x1="961.00" y1="113.40" x2="993.60" y2="113.40" stroke="#a8adc2" stroke-width="1" />
<text font-size="9.2" fill="#35d43b" x="823.60" y="123.20" >TOTAL:</text>
<text font-size="9.2" fill="#35d43b" text-anchor="end" x="904.50" y="123.20" >1066</text>
<text font-size="9.2" fill="#35d43b" x="912.70" y="123.20" >TOTAL:</text>
<text font-size="9.2" fill="#35d43b" text-anchor="end" x="992.50" y="123.20" >179</text>
<text font-size="8.3" fill="#d6d9e4" transform="translate(823.60 131.60) scale(0.93 1)" >(HEATED)</text>
<text font-size="8.3" fill="#d6d9e4" transform="translate(912.70 131.60) scale(0.93 1)" >(UNHEATED)</text>
<line x1="908.70" y1="51.40" x2="908.70" y2="190.00" stroke="#a8adc2" stroke-width="1" />
<line x1="822.70" y1="138.60" x2="993.60" y2="138.60" stroke="#a8adc2" stroke-width="1" />
<text font-size="8.3" fill="#35d43b" x="821.50" y="149.00" textLength="80.00" lengthAdjust="spacingAndGlyphs" >OVERALL DIMENSION</text>
<text font-size="8.3" fill="#35d43b" x="912.70" y="149.00" textLength="78.00" lengthAdjust="spacingAndGlyphs" >UNFINISHED (SQ. FT.)</text>
<text font-size="8.3" fill="#d6d9e4" transform="translate(823.60 159.30) scale(0.92 1)" >WIDTH:</text>
<text font-size="8.3" fill="#d6d9e4" text-anchor="end" x="902.50" y="159.30" textLength="17.00" lengthAdjust="spacingAndGlyphs" >30'-8"</text>
<text font-size="8.3" fill="#d6d9e4" transform="translate(823.60 169.00) scale(0.92 1)" >DEPTH:</text>
<text font-size="8.3" fill="#d6d9e4" text-anchor="end" x="902.50" y="169.00" textLength="17.00" lengthAdjust="spacingAndGlyphs" >40'-8"</text>
<text font-size="8.3" fill="#d6d9e4" transform="translate(912.70 159.30) scale(0.915 1)" >BASEMENT:</text>
<text font-size="8.3" fill="#d6d9e4" text-anchor="end" x="991.50" y="159.30" >N/A</text>
<text font-size="8.3" fill="#d6d9e4" transform="translate(912.70 169.00) scale(0.915 1)" >REC ROOM:</text>
<text font-size="8.3" fill="#d6d9e4" text-anchor="end" x="991.50" y="169.00" >N/A</text>
<text font-size="8.3" fill="#d6d9e4" transform="translate(912.70 178.80) scale(0.915 1)" >ATTIC:</text>
<text font-size="8.3" fill="#d6d9e4" text-anchor="end" x="991.50" y="178.80" >N/A</text>
<text font-size="8.3" fill="#d6d9e4" transform="translate(912.70 188.30) scale(0.915 1)" >STORAGE:</text>
<text font-size="8.3" fill="#d6d9e4" text-anchor="end" x="991.50" y="188.30" >N/A</text>
<rect x="790.50" y="205.00" width="207.30" height="120.60" fill="none" stroke="#35d43b" stroke-width="2.2"/>
<text font-size="12" fill="#35d43b" text-anchor="middle" x="897.80" y="223.20" textLength="142.80" lengthAdjust="spacingAndGlyphs" >LIST OF ABBREVIATIONS</text>
<line x1="826.40" y1="225.70" x2="969.20" y2="225.70" stroke="#2aa832" stroke-width="1" />
<text font-size="7.9" fill="#d6d9e4" transform="translate(804.70 238.30) scale(0.985 1)" >CLG. : CEILING</text>
<text font-size="7.9" fill="#d6d9e4" transform="translate(804.70 246.60) scale(0.985 1)" >HGT. : HEIGHT</text>
<text font-size="7.9" fill="#d6d9e4" transform="translate(804.70 254.20) scale(0.985 1)" >D.O. : DOUBLE OVEN</text>
<text font-size="7.9" fill="#d6d9e4" transform="translate(804.70 263.00) scale(0.985 1)" >WD. : WOOD</text>
<text font-size="7.9" fill="#d6d9e4" transform="translate(804.70 270.90) scale(0.985 1)" >CONT.:CONTINUOUS</text>
<text font-size="7.9" fill="#d6d9e4" transform="translate(804.70 278.80) scale(0.985 1)" >CONC. : CONCRETE</text>
<text font-size="7.9" fill="#d6d9e4" transform="translate(804.70 287.00) scale(0.985 1)" >COL. : COLUMN</text>
<text font-size="7.9" fill="#d6d9e4" transform="translate(804.70 295.00) scale(0.985 1)" >ELLIP. : ELLIPSE</text>
<text font-size="7.9" fill="#d6d9e4" transform="translate(804.70 303.00) scale(0.985 1)" >W/ : WITH</text>
<text font-size="7.9" fill="#d6d9e4" transform="translate(804.70 311.20) scale(0.985 1)" >TRANS. : TRANSOM</text>
<text font-size="7.9" fill="#d6d9e4" transform="translate(894.40 238.30) scale(0.969 1)" >ABV. : ABOVE</text>
<text font-size="7.9" fill="#d6d9e4" transform="translate(894.40 246.90) scale(0.969 1)" >C.O. : CASED OPENING</text>
<text font-size="7.9" fill="#d6d9e4" transform="translate(894.40 254.80) scale(0.969 1)" >REFG. : REFRIGERATOR</text>
<text font-size="7.9" fill="#d6d9e4" transform="translate(894.40 263.20) scale(0.969 1)" >D.W. : DISHWASHER</text>
<text font-size="7.9" fill="#d6d9e4" transform="translate(894.40 271.10) scale(0.969 1)" >T.B.D.: TO BE DETERMINED</text>
<text font-size="7.9" fill="#d6d9e4" transform="translate(894.40 279.30) scale(0.969 1)" >W.I.C. : WALK IN CLOSET</text>
<text font-size="7.9" fill="#d6d9e4" transform="translate(894.40 287.40) scale(0.969 1)" >W : WASHER</text>
<text font-size="7.9" fill="#d6d9e4" transform="translate(894.40 295.60) scale(0.969 1)" >D : DRYER</text>
<text font-size="7.9" fill="#d6d9e4" transform="translate(894.40 303.70) scale(0.969 1)" >SHWR. : SHOWER</text>
<text font-size="7.9" fill="#d6d9e4" transform="translate(894.40 311.90) scale(0.969 1)" >DN. : DOWN</text>
<text font-size="7.9" fill="#d6d9e4" transform="translate(894.40 319.60) scale(0.969 1)" >K.S. : KNEE SPACE</text>
<rect x="762.80" y="344.90" width="207.50" height="60.70" fill="none" stroke="#35d43b" stroke-width="2.2"/>
<text font-size="12" fill="#35d43b" x="775.90" y="358.60" textLength="132.80" lengthAdjust="spacingAndGlyphs" >ACCESSORIES LEGEND</text>
<line x1="775.90" y1="361.50" x2="908.70" y2="361.50" stroke="#2aa832" stroke-width="1" />
<text font-size="8" fill="#d6d9e4" x="778.40" y="369.50" textLength="92.60" lengthAdjust="spacingAndGlyphs" >PROVIDE BLOCKING FOR:</text>
<text font-size="8" fill="#d6d9e4" x="778.40" y="380.30" textLength="61.30" lengthAdjust="spacingAndGlyphs" >TB = TOWEL BAR</text>
<text font-size="8" fill="#d6d9e4" x="778.40" y="389.40" textLength="69.20" lengthAdjust="spacingAndGlyphs" >TP = TOILET PAPER</text>
<text font-size="8" fill="#d6d9e4" x="778.40" y="398.40" textLength="65.50" lengthAdjust="spacingAndGlyphs" >TR = TOWEL RING</text>
<text font-size="8" fill="#d6d9e4" x="868.50" y="380.40" textLength="84.10" lengthAdjust="spacingAndGlyphs" >MR = MAGAZINE RACK</text>
<text font-size="8" fill="#d6d9e4" x="868.50" y="389.40" textLength="92.90" lengthAdjust="spacingAndGlyphs" >MC = MEDICINE CABINET</text>
<rect x="762.80" y="417.60" width="207.50" height="328.50" fill="none" stroke="#35d43b" stroke-width="2.2"/>
<text font-size="8" fill="#d6d9e4" text-anchor="middle" x="846.40" y="425.00" textLength="26.00" lengthAdjust="spacingAndGlyphs" >NOTES:</text>
<line x1="833.40" y1="426.60" x2="859.50" y2="426.60" stroke="#d6d9e4" stroke-width="0.8" />
<text font-size="8" fill="#d6d9e4" transform="translate(771.30 439.80) scale(0.95 1)" >1.)</text>
<text font-size="8" fill="#d6d9e4" transform="translate(781.30 439.80) scale(0.957 1)" >SEE CHAPTER 6 OF 2009 IRC FOR WALL</text>
<text font-size="8" fill="#d6d9e4" transform="translate(781.00 448.00) scale(0.957 1)" >CONSTRUCTION.</text>
<text font-size="8" fill="#d6d9e4" transform="translate(771.30 461.00) scale(0.95 1)" >2.)</text>
<text font-size="8" fill="#d6d9e4" transform="translate(781.30 461.00) scale(0.957 1)" >TEMPERED GLASS TO BE USED AT ALL SAFETY</text>
<text font-size="8" fill="#d6d9e4" transform="translate(781.00 469.40) scale(0.957 1)" >REQUIRED LOCATIONS ACCORDING TO 2009</text>
<text font-size="8" fill="#d6d9e4" transform="translate(781.00 477.90) scale(0.957 1)" >IRC SECTION R308.4.</text>
<text font-size="8" fill="#d6d9e4" transform="translate(771.30 491.70) scale(0.95 1)" >3.)</text>
<text font-size="8" fill="#d6d9e4" transform="translate(781.30 491.70) scale(0.957 1)" >GARAGE SHALL BE SEPERATED FROM RESIDENCE</text>
<text font-size="8" fill="#d6d9e4" transform="translate(781.00 501.00) scale(0.935 1)" >OR ATTIC AREA BY LESS THAN ½" GYPSUM BOARD</text>
<text font-size="8" fill="#d6d9e4" transform="translate(781.00 509.40) scale(0.957 1)" >ON GARAGE SIDE PER 2009 IRC SECTION R309.2</text>
<text font-size="8" fill="#d6d9e4" transform="translate(771.30 520.80) scale(0.95 1)" >4.)</text>
<text font-size="8" fill="#d6d9e4" transform="translate(781.30 520.80) scale(0.957 1)" >ALL HABITABLE ROOMS SHALL MEET</text>
<text font-size="8" fill="#d6d9e4" transform="translate(781.00 529.30) scale(0.957 1)" >LIGHT/VENTILATION &amp; EGRESS AS REQUIRED IN</text>
<text font-size="8" fill="#d6d9e4" transform="translate(781.00 537.30) scale(0.957 1)" >2009 IRC SECTIONS R303.1 AND R310</text>
<text font-size="8" fill="#d6d9e4" transform="translate(771.30 550.60) scale(0.95 1)" >5.)</text>
<text font-size="8" fill="#d6d9e4" transform="translate(781.30 550.60) scale(0.957 1)" >ALL ANGLED WALLS ARE 45° UNLESS NOTED</text>
<text font-size="8" fill="#d6d9e4" transform="translate(781.00 558.60) scale(0.957 1)" >OTHERWISE.</text>
<text font-size="8" fill="#d6d9e4" transform="translate(771.30 570.70) scale(0.95 1)" >6.)</text>
<text font-size="8" fill="#d6d9e4" transform="translate(781.30 570.70) scale(0.957 1)" >VERIFY ALL WINDOW SIZES, RADIUS, AND</text>
<text font-size="8" fill="#d6d9e4" transform="translate(781.00 579.00) scale(0.957 1)" >DETAILS WITH CHOSEN MANUFACTURE.</text>
<text font-size="8" fill="#d6d9e4" transform="translate(771.30 592.30) scale(0.95 1)" >7.)</text>
<text font-size="8" fill="#d6d9e4" transform="translate(781.30 592.30) scale(0.957 1)" >LOCATE DORMER FACE TO ALLOW 4" MIN.</text>
<text font-size="8" fill="#d6d9e4" transform="translate(781.00 600.30) scale(0.957 1)" >BELOW WINDOW FRAME.</text>
<text font-size="8" fill="#d6d9e4" transform="translate(771.30 615.00) scale(0.95 1)" >8.)</text>
<text font-size="8" fill="#d6d9e4" transform="translate(781.30 615.00) scale(0.957 1)" >FLOOR PLAN NOTATIONS GOVERN OVER</text>
<text font-size="8" fill="#d6d9e4" transform="translate(781.00 623.00) scale(0.957 1)" >ELEVATION SCALE.</text>
<text font-size="8" fill="#d6d9e4" transform="translate(771.30 635.60) scale(0.95 1)" >9.)</text>
<text font-size="8" fill="#d6d9e4" transform="translate(781.30 635.60) scale(0.957 1)" >ALL CABINET DESIGNS/LAYOUTS TO BE</text>
<text font-size="8" fill="#d6d9e4" transform="translate(781.00 643.60) scale(0.957 1)" >VERIFIED WITH OWNER VIA SHOP DRAWINGS</text>
<text font-size="8" fill="#d6d9e4" transform="translate(781.00 651.50) scale(0.957 1)" >FROM CABINET MANUF.</text>
<text font-size="8" fill="#d6d9e4" transform="translate(771.30 662.00) scale(0.95 1)" >10.)</text>
<text font-size="8" fill="#d6d9e4" transform="translate(784.30 662.00) scale(0.957 1)" >FLOOR COVERINGS BY OWNER. BLDR. TO</text>
<text font-size="8" fill="#d6d9e4" transform="translate(781.00 670.00) scale(0.957 1)" >COORDINATE HEIGHTS DUE TO THICKNESS</text>
<text font-size="8" fill="#d6d9e4" transform="translate(781.00 678.00) scale(0.957 1)" >CHANGES.</text>
<text font-size="8" fill="#d6d9e4" transform="translate(771.30 688.50) scale(0.95 1)" >11.)</text>
<text font-size="8" fill="#d6d9e4" transform="translate(784.30 688.50) scale(0.957 1)" >ALL WINDOW GLAZING TO HAVE 0.40 U-FACTOR</text>
<text font-size="8" fill="#d6d9e4" transform="translate(781.00 696.40) scale(0.957 1)" >MIN.  SEE TABLE N1102.1, N1102.1.2</text>
<text font-size="8" fill="#d6d9e4" transform="translate(771.30 707.50) scale(0.95 1)" >12.)</text>
<text font-size="8" fill="#d6d9e4" transform="translate(784.30 707.50) scale(0.957 1)" >CONCRETE &amp; MASONRY FOUNDATION WALLS</text>
<text font-size="8" fill="#d6d9e4" transform="translate(781.00 715.80) scale(0.957 1)" >SHALL EXTEND ABOVE FINISH GRADE AT ALL</text>
<text font-size="8" fill="#d6d9e4" transform="translate(781.00 724.00) scale(0.957 1)" >POINTS A MIN. OF 4" WHERE MASONRY VENEER</text>
<text font-size="8" fill="#d6d9e4" transform="translate(781.00 732.00) scale(0.957 1)" >IS USED AND A MIN. OF 6" ELSEWHERE PER SECT.</text>
<text font-size="8" fill="#d6d9e4" transform="translate(781.00 740.30) scale(0.957 1)" >R404.1.6</text>
<rect x="665.40" y="757.00" width="303.30" height="50.90" fill="none" stroke="#35d43b" stroke-width="2.2"/>
<text font-size="18.3" fill="#35d43b" x="674.80" y="779.50" textLength="166.70" lengthAdjust="spacingAndGlyphs" >FIRST FLOOR PLAN</text>
<line x1="674.80" y1="783.00" x2="958.00" y2="783.00" stroke="#1d8f28" stroke-width="1.2" />
<text font-size="8" fill="#d6d9e4" text-anchor="end" x="960.20" y="778.80" textLength="59.50" lengthAdjust="spacingAndGlyphs" >SCALE: 1/4"=1'-0"</text>
<text font-size="8" fill="#d6d9e4" x="674.80" y="790.80" textLength="77.00" lengthAdjust="spacingAndGlyphs" >9'-0" CLG. HGT. U.N.O.</text>
<text font-size="8" fill="#d6d9e4" x="674.80" y="800.40" textLength="100.20" lengthAdjust="spacingAndGlyphs" >SET WINDOWS @ 7'-8" U.N.O.</text>
</svg>
</body></html>
